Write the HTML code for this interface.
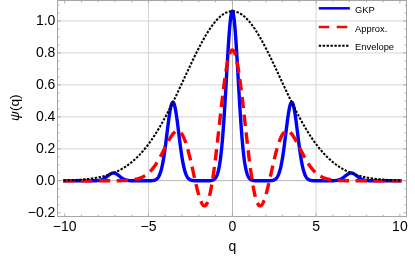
<!DOCTYPE html>
<html><head><meta charset="utf-8"><style>
html,body{margin:0;padding:0;background:#fff;}
svg{display:block;font-family:"Liberation Sans",sans-serif;will-change:transform;}
</style></head><body>
<svg width="415" height="258" viewBox="0 0 415 258">
<rect width="415" height="258" fill="#fff"/>
<g stroke="#d4d4d4" stroke-width="1" fill="none"><line x1="148.50" y1="0.50" x2="148.50" y2="216.50"/><line x1="316.10" y1="0.50" x2="316.10" y2="216.50"/><line x1="57.50" y1="148.83" x2="406.50" y2="148.83"/><line x1="57.50" y1="116.86" x2="406.50" y2="116.86"/><line x1="57.50" y1="84.89" x2="406.50" y2="84.89"/><line x1="57.50" y1="52.92" x2="406.50" y2="52.92"/><line x1="57.50" y1="20.95" x2="406.50" y2="20.95"/></g>
<g stroke="#9a9a9a" stroke-width="0.7" fill="none"><line x1="232.50" y1="0.50" x2="232.50" y2="216.50"/><line x1="57.50" y1="180.60" x2="406.50" y2="180.60"/></g>
<g fill="none" stroke-linejoin="round" stroke-linecap="square">
<path d="M64.70,180.77 L64.91,180.77 L65.12,180.77 L65.33,180.77 L65.54,180.78 L65.75,180.78 L65.96,180.78 L66.17,180.78 L66.38,180.78 L66.59,180.78 L66.79,180.78 L67.00,180.79 L67.21,180.79 L67.42,180.79 L67.63,180.79 L67.84,180.79 L68.05,180.79 L68.26,180.79 L68.47,180.79 L68.68,180.79 L68.89,180.79 L69.10,180.79 L69.31,180.79 L69.52,180.79 L69.73,180.80 L69.94,180.80 L70.15,180.80 L70.36,180.80 L70.57,180.80 L70.78,180.80 L70.98,180.80 L71.19,180.80 L71.40,180.80 L71.61,180.80 L71.82,180.80 L72.03,180.80 L72.24,180.80 L72.45,180.80 L72.66,180.80 L72.87,180.80 L73.08,180.80 L73.29,180.80 L73.50,180.80 L73.71,180.80 L73.92,180.80 L74.13,180.80 L74.34,180.80 L74.55,180.80 L74.76,180.80 L74.97,180.80 L75.17,180.80 L75.38,180.80 L75.59,180.80 L75.80,180.80 L76.01,180.80 L76.22,180.80 L76.43,180.80 L76.64,180.80 L76.85,180.80 L77.06,180.80 L77.27,180.80 L77.48,180.80 L77.69,180.80 L77.90,180.80 L78.11,180.80 L78.32,180.80 L78.53,180.80 L78.74,180.80 L78.95,180.80 L79.16,180.80 L79.37,180.80 L79.57,180.80 L79.78,180.80 L79.99,180.80 L80.20,180.80 L80.41,180.80 L80.62,180.80 L80.83,180.80 L81.04,180.80 L81.25,180.80 L81.46,180.80 L81.67,180.80 L81.88,180.80 L82.09,180.80 L82.30,180.80 L82.51,180.80 L82.72,180.80 L82.93,180.80 L83.14,180.80 L83.35,180.80 L83.56,180.80 L83.76,180.80 L83.97,180.80 L84.18,180.80 L84.39,180.80 L84.60,180.80 L84.81,180.80 L85.02,180.80 L85.23,180.80 L85.44,180.80 L85.65,180.80 L85.86,180.80 L86.07,180.80 L86.28,180.80 L86.49,180.80 L86.70,180.80 L86.91,180.80 L87.12,180.80 L87.33,180.80 L87.54,180.80 L87.75,180.80 L87.95,180.80 L88.16,180.80 L88.37,180.80 L88.58,180.80 L88.79,180.80 L89.00,180.80 L89.21,180.80 L89.42,180.80 L89.63,180.80 L89.84,180.80 L90.05,180.80 L90.26,180.80 L90.47,180.80 L90.68,180.80 L90.89,180.80 L91.10,180.79 L91.31,180.79 L91.52,180.79 L91.73,180.79 L91.94,180.79 L92.14,180.79 L92.35,180.79 L92.56,180.79 L92.77,180.78 L92.98,180.78 L93.19,180.78 L93.40,180.78 L93.61,180.77 L93.82,180.77 L94.03,180.77 L94.24,180.76 L94.45,180.76 L94.66,180.75 L94.87,180.75 L95.08,180.74 L95.29,180.74 L95.50,180.73 L95.71,180.72 L95.92,180.71 L96.12,180.70 L96.33,180.69 L96.54,180.68 L96.75,180.67 L96.96,180.65 L97.17,180.64 L97.38,180.62 L97.59,180.60 L97.80,180.58 L98.01,180.56 L98.22,180.53 L98.43,180.51 L98.64,180.48 L98.85,180.45 L99.06,180.42 L99.27,180.38 L99.48,180.35 L99.69,180.31 L99.90,180.26 L100.11,180.22 L100.31,180.17 L100.52,180.12 L100.73,180.06 L100.94,180.00 L101.15,179.94 L101.36,179.87 L101.57,179.80 L101.78,179.73 L101.99,179.65 L102.20,179.57 L102.41,179.48 L102.62,179.39 L102.83,179.30 L103.04,179.20 L103.25,179.09 L103.46,178.98 L103.67,178.87 L103.88,178.75 L104.09,178.63 L104.30,178.51 L104.50,178.38 L104.71,178.24 L104.92,178.10 L105.13,177.96 L105.34,177.82 L105.55,177.67 L105.76,177.51 L105.97,177.36 L106.18,177.20 L106.39,177.04 L106.60,176.87 L106.81,176.71 L107.02,176.54 L107.23,176.37 L107.44,176.21 L107.65,176.04 L107.86,175.87 L108.07,175.70 L108.28,175.53 L108.49,175.37 L108.69,175.20 L108.90,175.04 L109.11,174.88 L109.32,174.73 L109.53,174.58 L109.74,174.43 L109.95,174.29 L110.16,174.15 L110.37,174.02 L110.58,173.89 L110.79,173.77 L111.00,173.66 L111.21,173.56 L111.42,173.46 L111.63,173.38 L111.84,173.30 L112.05,173.23 L112.26,173.16 L112.47,173.11 L112.68,173.07 L112.89,173.04 L113.09,173.01 L113.30,173.00 L113.51,173.00 L113.72,173.01 L113.93,173.02 L114.14,173.05 L114.35,173.09 L114.56,173.13 L114.77,173.19 L114.98,173.25 L115.19,173.32 L115.40,173.41 L115.61,173.50 L115.82,173.60 L116.03,173.70 L116.24,173.82 L116.45,173.94 L116.66,174.07 L116.87,174.20 L117.08,174.34 L117.28,174.48 L117.49,174.63 L117.70,174.78 L117.91,174.94 L118.12,175.10 L118.33,175.26 L118.54,175.43 L118.75,175.59 L118.96,175.76 L119.17,175.93 L119.38,176.10 L119.59,176.27 L119.80,176.44 L120.01,176.60 L120.22,176.77 L120.43,176.93 L120.64,177.10 L120.85,177.26 L121.06,177.42 L121.27,177.57 L121.47,177.72 L121.68,177.87 L121.89,178.01 L122.10,178.16 L122.31,178.29 L122.52,178.43 L122.73,178.55 L122.94,178.68 L123.15,178.80 L123.36,178.91 L123.57,179.03 L123.78,179.13 L123.99,179.23 L124.20,179.33 L124.41,179.43 L124.62,179.52 L124.83,179.60 L125.04,179.68 L125.25,179.76 L125.45,179.83 L125.66,179.90 L125.87,179.96 L126.08,180.03 L126.29,180.08 L126.50,180.14 L126.71,180.19 L126.92,180.24 L127.13,180.28 L127.34,180.32 L127.55,180.36 L127.76,180.40 L127.97,180.43 L128.18,180.46 L128.39,180.49 L128.60,180.52 L128.81,180.54 L129.02,180.57 L129.23,180.59 L129.44,180.61 L129.64,180.63 L129.85,180.64 L130.06,180.66 L130.27,180.67 L130.48,180.68 L130.69,180.69 L130.90,180.71 L131.11,180.72 L131.32,180.72 L131.53,180.73 L131.74,180.74 L131.95,180.75 L132.16,180.75 L132.37,180.76 L132.58,180.76 L132.79,180.77 L133.00,180.77 L133.21,180.77 L133.42,180.78 L133.63,180.78 L133.84,180.78 L134.04,180.78 L134.25,180.79 L134.46,180.79 L134.67,180.79 L134.88,180.79 L135.09,180.79 L135.30,180.79 L135.51,180.79 L135.72,180.79 L135.93,180.79 L136.14,180.80 L136.35,180.80 L136.56,180.80 L136.77,180.80 L136.98,180.80 L137.19,180.80 L137.40,180.80 L137.61,180.80 L137.82,180.80 L138.03,180.80 L138.23,180.80 L138.44,180.80 L138.65,180.80 L138.86,180.80 L139.07,180.80 L139.28,180.80 L139.49,180.80 L139.70,180.80 L139.91,180.80 L140.12,180.80 L140.33,180.80 L140.54,180.80 L140.75,180.80 L140.96,180.80 L141.17,180.80 L141.38,180.80 L141.59,180.80 L141.80,180.80 L142.01,180.80 L142.22,180.80 L142.42,180.80 L142.63,180.80 L142.84,180.80 L143.05,180.80 L143.26,180.80 L143.47,180.80 L143.68,180.80 L143.89,180.80 L144.10,180.80 L144.31,180.80 L144.52,180.80 L144.73,180.80 L144.94,180.80 L145.15,180.80 L145.36,180.80 L145.57,180.80 L145.78,180.80 L145.99,180.80 L146.20,180.80 L146.41,180.80 L146.61,180.80 L146.82,180.80 L147.03,180.80 L147.24,180.79 L147.45,180.79 L147.66,180.79 L147.87,180.79 L148.08,180.79 L148.29,180.79 L148.50,180.79 L148.71,180.78 L148.92,180.78 L149.13,180.78 L149.34,180.78 L149.55,180.77 L149.76,180.77 L149.97,180.76 L150.18,180.76 L150.39,180.75 L150.59,180.74 L150.80,180.73 L151.01,180.72 L151.22,180.71 L151.43,180.70 L151.64,180.69 L151.85,180.67 L152.06,180.66 L152.27,180.64 L152.48,180.62 L152.69,180.59 L152.90,180.56 L153.11,180.53 L153.32,180.50 L153.53,180.46 L153.74,180.42 L153.95,180.37 L154.16,180.32 L154.37,180.26 L154.58,180.20 L154.79,180.13 L154.99,180.05 L155.20,179.97 L155.41,179.87 L155.62,179.77 L155.83,179.65 L156.04,179.53 L156.25,179.39 L156.46,179.24 L156.67,179.08 L156.88,178.90 L157.09,178.71 L157.30,178.50 L157.51,178.27 L157.72,178.03 L157.93,177.76 L158.14,177.47 L158.35,177.16 L158.56,176.83 L158.77,176.47 L158.98,176.08 L159.18,175.67 L159.39,175.23 L159.60,174.75 L159.81,174.25 L160.02,173.71 L160.23,173.14 L160.44,172.53 L160.65,171.89 L160.86,171.20 L161.07,170.48 L161.28,169.72 L161.49,168.91 L161.70,168.07 L161.91,167.18 L162.12,166.24 L162.33,165.27 L162.54,164.25 L162.75,163.18 L162.96,162.07 L163.17,160.92 L163.37,159.72 L163.58,158.47 L163.79,157.19 L164.00,155.86 L164.21,154.49 L164.42,153.08 L164.63,151.63 L164.84,150.15 L165.05,148.63 L165.26,147.08 L165.47,145.50 L165.68,143.89 L165.89,142.26 L166.10,140.61 L166.31,138.94 L166.52,137.26 L166.73,135.57 L166.94,133.87 L167.15,132.17 L167.36,130.47 L167.56,128.78 L167.77,127.10 L167.98,125.43 L168.19,123.79 L168.40,122.18 L168.61,120.59 L168.82,119.05 L169.03,117.54 L169.24,116.08 L169.45,114.67 L169.66,113.31 L169.87,112.01 L170.08,110.78 L170.29,109.62 L170.50,108.53 L170.71,107.52 L170.92,106.59 L171.13,105.74 L171.34,104.98 L171.55,104.31 L171.75,103.73 L171.96,103.24 L172.17,102.86 L172.38,102.57 L172.59,102.38 L172.80,102.29 L173.01,102.30 L173.22,102.40 L173.43,102.61 L173.64,102.92 L173.85,103.33 L174.06,103.83 L174.27,104.42 L174.48,105.11 L174.69,105.89 L174.90,106.75 L175.11,107.70 L175.32,108.73 L175.53,109.83 L175.74,111.01 L175.94,112.25 L176.15,113.56 L176.36,114.92 L176.57,116.34 L176.78,117.81 L176.99,119.33 L177.20,120.88 L177.41,122.47 L177.62,124.10 L177.83,125.74 L178.04,127.41 L178.25,129.09 L178.46,130.78 L178.67,132.48 L178.88,134.18 L179.09,135.88 L179.30,137.57 L179.51,139.25 L179.72,140.92 L179.93,142.57 L180.13,144.19 L180.34,145.80 L180.55,147.37 L180.76,148.92 L180.97,150.43 L181.18,151.91 L181.39,153.35 L181.60,154.75 L181.81,156.11 L182.02,157.43 L182.23,158.71 L182.44,159.94 L182.65,161.13 L182.86,162.28 L183.07,163.38 L183.28,164.44 L183.49,165.45 L183.70,166.42 L183.91,167.34 L184.12,168.23 L184.32,169.06 L184.53,169.86 L184.74,170.62 L184.95,171.33 L185.16,172.01 L185.37,172.65 L185.58,173.25 L185.79,173.81 L186.00,174.35 L186.21,174.84 L186.42,175.31 L186.63,175.75 L186.84,176.16 L187.05,176.54 L187.26,176.89 L187.47,177.22 L187.68,177.53 L187.89,177.81 L188.10,178.07 L188.31,178.32 L188.51,178.54 L188.72,178.75 L188.93,178.94 L189.14,179.11 L189.35,179.27 L189.56,179.42 L189.77,179.55 L189.98,179.68 L190.19,179.79 L190.40,179.89 L190.61,179.98 L190.82,180.07 L191.03,180.14 L191.24,180.21 L191.45,180.27 L191.66,180.33 L191.87,180.38 L192.08,180.43 L192.29,180.47 L192.50,180.51 L192.70,180.54 L192.91,180.57 L193.12,180.60 L193.33,180.62 L193.54,180.64 L193.75,180.66 L193.96,180.68 L194.17,180.69 L194.38,180.70 L194.59,180.72 L194.80,180.73 L195.01,180.74 L195.22,180.74 L195.43,180.75 L195.64,180.76 L195.85,180.76 L196.06,180.77 L196.27,180.77 L196.48,180.78 L196.69,180.78 L196.89,180.78 L197.10,180.78 L197.31,180.79 L197.52,180.79 L197.73,180.79 L197.94,180.79 L198.15,180.79 L198.36,180.79 L198.57,180.79 L198.78,180.80 L198.99,180.80 L199.20,180.80 L199.41,180.80 L199.62,180.80 L199.83,180.80 L200.04,180.80 L200.25,180.80 L200.46,180.80 L200.67,180.80 L200.88,180.80 L201.08,180.80 L201.29,180.80 L201.50,180.80 L201.71,180.80 L201.92,180.80 L202.13,180.80 L202.34,180.80 L202.55,180.80 L202.76,180.80 L202.97,180.80 L203.18,180.80 L203.39,180.80 L203.60,180.80 L203.81,180.80 L204.02,180.80 L204.23,180.80 L204.44,180.80 L204.65,180.80 L204.86,180.80 L205.06,180.80 L205.27,180.80 L205.48,180.80 L205.69,180.79 L205.90,180.79 L206.11,180.79 L206.32,180.79 L206.53,180.79 L206.74,180.79 L206.95,180.79 L207.16,180.78 L207.37,180.78 L207.58,180.78 L207.79,180.77 L208.00,180.77 L208.21,180.76 L208.42,180.76 L208.63,180.75 L208.84,180.74 L209.05,180.73 L209.25,180.72 L209.46,180.71 L209.67,180.70 L209.88,180.69 L210.09,180.67 L210.30,180.65 L210.51,180.63 L210.72,180.60 L210.93,180.58 L211.14,180.55 L211.35,180.51 L211.56,180.47 L211.77,180.43 L211.98,180.38 L212.19,180.33 L212.40,180.26 L212.61,180.19 L212.82,180.12 L213.03,180.03 L213.24,179.94 L213.45,179.83 L213.65,179.72 L213.86,179.59 L214.07,179.44 L214.28,179.28 L214.49,179.11 L214.70,178.92 L214.91,178.70 L215.12,178.47 L215.33,178.22 L215.54,177.94 L215.75,177.63 L215.96,177.30 L216.17,176.94 L216.38,176.54 L216.59,176.11 L216.80,175.64 L217.01,175.13 L217.22,174.59 L217.43,173.99 L217.64,173.35 L217.84,172.66 L218.05,171.92 L218.26,171.12 L218.47,170.26 L218.68,169.34 L218.89,168.36 L219.10,167.31 L219.31,166.19 L219.52,165.00 L219.73,163.73 L219.94,162.39 L220.15,160.96 L220.36,159.45 L220.57,157.86 L220.78,156.17 L220.99,154.40 L221.20,152.54 L221.41,150.58 L221.62,148.53 L221.83,146.38 L222.03,144.14 L222.24,141.80 L222.45,139.36 L222.66,136.83 L222.87,134.20 L223.08,131.48 L223.29,128.66 L223.50,125.76 L223.71,122.77 L223.92,119.69 L224.13,116.53 L224.34,113.30 L224.55,109.99 L224.76,106.62 L224.97,103.18 L225.18,99.69 L225.39,96.15 L225.60,92.56 L225.81,88.95 L226.02,85.30 L226.22,81.64 L226.43,77.97 L226.64,74.30 L226.85,70.64 L227.06,67.00 L227.27,63.38 L227.48,59.81 L227.69,56.29 L227.90,52.83 L228.11,49.44 L228.32,46.13 L228.53,42.91 L228.74,39.80 L228.95,36.80 L229.16,33.93 L229.37,31.18 L229.58,28.59 L229.79,26.14 L230.00,23.85 L230.21,21.74 L230.41,19.80 L230.62,18.04 L230.83,16.48 L231.04,15.11 L231.25,13.94 L231.46,12.98 L231.67,12.23 L231.88,11.70 L232.09,11.37 L232.30,11.26 L232.51,11.37 L232.72,11.70 L232.93,12.23 L233.14,12.98 L233.35,13.94 L233.56,15.11 L233.77,16.48 L233.98,18.04 L234.19,19.80 L234.40,21.74 L234.60,23.85 L234.81,26.14 L235.02,28.59 L235.23,31.18 L235.44,33.93 L235.65,36.80 L235.86,39.80 L236.07,42.91 L236.28,46.13 L236.49,49.44 L236.70,52.83 L236.91,56.29 L237.12,59.81 L237.33,63.38 L237.54,67.00 L237.75,70.64 L237.96,74.30 L238.17,77.97 L238.38,81.64 L238.59,85.30 L238.79,88.95 L239.00,92.56 L239.21,96.15 L239.42,99.69 L239.63,103.18 L239.84,106.62 L240.05,109.99 L240.26,113.30 L240.47,116.53 L240.68,119.69 L240.89,122.77 L241.10,125.76 L241.31,128.66 L241.52,131.48 L241.73,134.20 L241.94,136.83 L242.15,139.36 L242.36,141.80 L242.57,144.14 L242.78,146.38 L242.98,148.53 L243.19,150.58 L243.40,152.54 L243.61,154.40 L243.82,156.17 L244.03,157.86 L244.24,159.45 L244.45,160.96 L244.66,162.39 L244.87,163.73 L245.08,165.00 L245.29,166.19 L245.50,167.31 L245.71,168.36 L245.92,169.34 L246.13,170.26 L246.34,171.12 L246.55,171.92 L246.76,172.66 L246.97,173.35 L247.17,173.99 L247.38,174.59 L247.59,175.13 L247.80,175.64 L248.01,176.11 L248.22,176.54 L248.43,176.94 L248.64,177.30 L248.85,177.63 L249.06,177.94 L249.27,178.22 L249.48,178.47 L249.69,178.70 L249.90,178.92 L250.11,179.11 L250.32,179.28 L250.53,179.44 L250.74,179.59 L250.95,179.72 L251.16,179.83 L251.36,179.94 L251.57,180.03 L251.78,180.12 L251.99,180.19 L252.20,180.26 L252.41,180.33 L252.62,180.38 L252.83,180.43 L253.04,180.47 L253.25,180.51 L253.46,180.55 L253.67,180.58 L253.88,180.60 L254.09,180.63 L254.30,180.65 L254.51,180.67 L254.72,180.69 L254.93,180.70 L255.14,180.71 L255.35,180.72 L255.55,180.73 L255.76,180.74 L255.97,180.75 L256.18,180.76 L256.39,180.76 L256.60,180.77 L256.81,180.77 L257.02,180.78 L257.23,180.78 L257.44,180.78 L257.65,180.79 L257.86,180.79 L258.07,180.79 L258.28,180.79 L258.49,180.79 L258.70,180.79 L258.91,180.79 L259.12,180.80 L259.33,180.80 L259.54,180.80 L259.74,180.80 L259.95,180.80 L260.16,180.80 L260.37,180.80 L260.58,180.80 L260.79,180.80 L261.00,180.80 L261.21,180.80 L261.42,180.80 L261.63,180.80 L261.84,180.80 L262.05,180.80 L262.26,180.80 L262.47,180.80 L262.68,180.80 L262.89,180.80 L263.10,180.80 L263.31,180.80 L263.52,180.80 L263.73,180.80 L263.93,180.80 L264.14,180.80 L264.35,180.80 L264.56,180.80 L264.77,180.80 L264.98,180.80 L265.19,180.80 L265.40,180.80 L265.61,180.80 L265.82,180.80 L266.03,180.79 L266.24,180.79 L266.45,180.79 L266.66,180.79 L266.87,180.79 L267.08,180.79 L267.29,180.79 L267.50,180.78 L267.71,180.78 L267.92,180.78 L268.12,180.78 L268.33,180.77 L268.54,180.77 L268.75,180.76 L268.96,180.76 L269.17,180.75 L269.38,180.74 L269.59,180.74 L269.80,180.73 L270.01,180.72 L270.22,180.70 L270.43,180.69 L270.64,180.68 L270.85,180.66 L271.06,180.64 L271.27,180.62 L271.48,180.60 L271.69,180.57 L271.90,180.54 L272.11,180.51 L272.31,180.47 L272.52,180.43 L272.73,180.38 L272.94,180.33 L273.15,180.27 L273.36,180.21 L273.57,180.14 L273.78,180.07 L273.99,179.98 L274.20,179.89 L274.41,179.79 L274.62,179.68 L274.83,179.55 L275.04,179.42 L275.25,179.27 L275.46,179.11 L275.67,178.94 L275.88,178.75 L276.09,178.54 L276.30,178.32 L276.50,178.07 L276.71,177.81 L276.92,177.53 L277.13,177.22 L277.34,176.89 L277.55,176.54 L277.76,176.16 L277.97,175.75 L278.18,175.31 L278.39,174.84 L278.60,174.35 L278.81,173.81 L279.02,173.25 L279.23,172.65 L279.44,172.01 L279.65,171.33 L279.86,170.62 L280.07,169.86 L280.28,169.06 L280.49,168.23 L280.69,167.34 L280.90,166.42 L281.11,165.45 L281.32,164.44 L281.53,163.38 L281.74,162.28 L281.95,161.13 L282.16,159.94 L282.37,158.71 L282.58,157.43 L282.79,156.11 L283.00,154.75 L283.21,153.35 L283.42,151.91 L283.63,150.43 L283.84,148.92 L284.05,147.37 L284.26,145.80 L284.47,144.19 L284.68,142.57 L284.88,140.92 L285.09,139.25 L285.30,137.57 L285.51,135.88 L285.72,134.18 L285.93,132.48 L286.14,130.78 L286.35,129.09 L286.56,127.41 L286.77,125.74 L286.98,124.10 L287.19,122.47 L287.40,120.88 L287.61,119.33 L287.82,117.81 L288.03,116.34 L288.24,114.92 L288.45,113.56 L288.66,112.25 L288.87,111.01 L289.07,109.83 L289.28,108.73 L289.49,107.70 L289.70,106.75 L289.91,105.89 L290.12,105.11 L290.33,104.42 L290.54,103.83 L290.75,103.33 L290.96,102.92 L291.17,102.61 L291.38,102.40 L291.59,102.30 L291.80,102.29 L292.01,102.38 L292.22,102.57 L292.43,102.86 L292.64,103.24 L292.85,103.73 L293.06,104.31 L293.26,104.98 L293.47,105.74 L293.68,106.59 L293.89,107.52 L294.10,108.53 L294.31,109.62 L294.52,110.78 L294.73,112.01 L294.94,113.31 L295.15,114.67 L295.36,116.08 L295.57,117.54 L295.78,119.05 L295.99,120.59 L296.20,122.18 L296.41,123.79 L296.62,125.43 L296.83,127.10 L297.04,128.78 L297.25,130.47 L297.45,132.17 L297.66,133.87 L297.87,135.57 L298.08,137.26 L298.29,138.94 L298.50,140.61 L298.71,142.26 L298.92,143.89 L299.13,145.50 L299.34,147.08 L299.55,148.63 L299.76,150.15 L299.97,151.63 L300.18,153.08 L300.39,154.49 L300.60,155.86 L300.81,157.19 L301.02,158.47 L301.23,159.72 L301.44,160.92 L301.64,162.07 L301.85,163.18 L302.06,164.25 L302.27,165.27 L302.48,166.24 L302.69,167.18 L302.90,168.07 L303.11,168.91 L303.32,169.72 L303.53,170.48 L303.74,171.20 L303.95,171.89 L304.16,172.53 L304.37,173.14 L304.58,173.71 L304.79,174.25 L305.00,174.75 L305.21,175.23 L305.42,175.67 L305.62,176.08 L305.83,176.47 L306.04,176.83 L306.25,177.16 L306.46,177.47 L306.67,177.76 L306.88,178.03 L307.09,178.27 L307.30,178.50 L307.51,178.71 L307.72,178.90 L307.93,179.08 L308.14,179.24 L308.35,179.39 L308.56,179.53 L308.77,179.65 L308.98,179.77 L309.19,179.87 L309.40,179.97 L309.61,180.05 L309.81,180.13 L310.02,180.20 L310.23,180.26 L310.44,180.32 L310.65,180.37 L310.86,180.42 L311.07,180.46 L311.28,180.50 L311.49,180.53 L311.70,180.56 L311.91,180.59 L312.12,180.62 L312.33,180.64 L312.54,180.66 L312.75,180.67 L312.96,180.69 L313.17,180.70 L313.38,180.71 L313.59,180.72 L313.80,180.73 L314.00,180.74 L314.21,180.75 L314.42,180.76 L314.63,180.76 L314.84,180.77 L315.05,180.77 L315.26,180.78 L315.47,180.78 L315.68,180.78 L315.89,180.78 L316.10,180.79 L316.31,180.79 L316.52,180.79 L316.73,180.79 L316.94,180.79 L317.15,180.79 L317.36,180.79 L317.57,180.80 L317.78,180.80 L317.99,180.80 L318.20,180.80 L318.40,180.80 L318.61,180.80 L318.82,180.80 L319.03,180.80 L319.24,180.80 L319.45,180.80 L319.66,180.80 L319.87,180.80 L320.08,180.80 L320.29,180.80 L320.50,180.80 L320.71,180.80 L320.92,180.80 L321.13,180.80 L321.34,180.80 L321.55,180.80 L321.76,180.80 L321.97,180.80 L322.18,180.80 L322.38,180.80 L322.59,180.80 L322.80,180.80 L323.01,180.80 L323.22,180.80 L323.43,180.80 L323.64,180.80 L323.85,180.80 L324.06,180.80 L324.27,180.80 L324.48,180.80 L324.69,180.80 L324.90,180.80 L325.11,180.80 L325.32,180.80 L325.53,180.80 L325.74,180.80 L325.95,180.80 L326.16,180.80 L326.37,180.80 L326.58,180.80 L326.78,180.80 L326.99,180.80 L327.20,180.80 L327.41,180.80 L327.62,180.80 L327.83,180.80 L328.04,180.80 L328.25,180.80 L328.46,180.80 L328.67,180.79 L328.88,180.79 L329.09,180.79 L329.30,180.79 L329.51,180.79 L329.72,180.79 L329.93,180.79 L330.14,180.79 L330.35,180.79 L330.56,180.78 L330.76,180.78 L330.97,180.78 L331.18,180.78 L331.39,180.77 L331.60,180.77 L331.81,180.77 L332.02,180.76 L332.23,180.76 L332.44,180.75 L332.65,180.75 L332.86,180.74 L333.07,180.73 L333.28,180.72 L333.49,180.72 L333.70,180.71 L333.91,180.69 L334.12,180.68 L334.33,180.67 L334.54,180.66 L334.75,180.64 L334.96,180.63 L335.16,180.61 L335.37,180.59 L335.58,180.57 L335.79,180.54 L336.00,180.52 L336.21,180.49 L336.42,180.46 L336.63,180.43 L336.84,180.40 L337.05,180.36 L337.26,180.32 L337.47,180.28 L337.68,180.24 L337.89,180.19 L338.10,180.14 L338.31,180.08 L338.52,180.03 L338.73,179.96 L338.94,179.90 L339.15,179.83 L339.35,179.76 L339.56,179.68 L339.77,179.60 L339.98,179.52 L340.19,179.43 L340.40,179.33 L340.61,179.23 L340.82,179.13 L341.03,179.03 L341.24,178.91 L341.45,178.80 L341.66,178.68 L341.87,178.55 L342.08,178.43 L342.29,178.29 L342.50,178.16 L342.71,178.01 L342.92,177.87 L343.13,177.72 L343.34,177.57 L343.54,177.42 L343.75,177.26 L343.96,177.10 L344.17,176.93 L344.38,176.77 L344.59,176.60 L344.80,176.44 L345.01,176.27 L345.22,176.10 L345.43,175.93 L345.64,175.76 L345.85,175.59 L346.06,175.43 L346.27,175.26 L346.48,175.10 L346.69,174.94 L346.90,174.78 L347.11,174.63 L347.32,174.48 L347.53,174.34 L347.73,174.20 L347.94,174.07 L348.15,173.94 L348.36,173.82 L348.57,173.70 L348.78,173.60 L348.99,173.50 L349.20,173.41 L349.41,173.32 L349.62,173.25 L349.83,173.19 L350.04,173.13 L350.25,173.09 L350.46,173.05 L350.67,173.02 L350.88,173.01 L351.09,173.00 L351.30,173.00 L351.51,173.01 L351.72,173.04 L351.92,173.07 L352.13,173.11 L352.34,173.16 L352.55,173.23 L352.76,173.30 L352.97,173.38 L353.18,173.46 L353.39,173.56 L353.60,173.66 L353.81,173.77 L354.02,173.89 L354.23,174.02 L354.44,174.15 L354.65,174.29 L354.86,174.43 L355.07,174.58 L355.28,174.73 L355.49,174.88 L355.70,175.04 L355.91,175.20 L356.11,175.37 L356.32,175.53 L356.53,175.70 L356.74,175.87 L356.95,176.04 L357.16,176.21 L357.37,176.37 L357.58,176.54 L357.79,176.71 L358.00,176.87 L358.21,177.04 L358.42,177.20 L358.63,177.36 L358.84,177.51 L359.05,177.67 L359.26,177.82 L359.47,177.96 L359.68,178.10 L359.89,178.24 L360.10,178.38 L360.30,178.51 L360.51,178.63 L360.72,178.75 L360.93,178.87 L361.14,178.98 L361.35,179.09 L361.56,179.20 L361.77,179.30 L361.98,179.39 L362.19,179.48 L362.40,179.57 L362.61,179.65 L362.82,179.73 L363.03,179.80 L363.24,179.87 L363.45,179.94 L363.66,180.00 L363.87,180.06 L364.08,180.12 L364.29,180.17 L364.49,180.22 L364.70,180.26 L364.91,180.31 L365.12,180.35 L365.33,180.38 L365.54,180.42 L365.75,180.45 L365.96,180.48 L366.17,180.51 L366.38,180.53 L366.59,180.56 L366.80,180.58 L367.01,180.60 L367.22,180.62 L367.43,180.64 L367.64,180.65 L367.85,180.67 L368.06,180.68 L368.27,180.69 L368.48,180.70 L368.68,180.71 L368.89,180.72 L369.10,180.73 L369.31,180.74 L369.52,180.74 L369.73,180.75 L369.94,180.75 L370.15,180.76 L370.36,180.76 L370.57,180.77 L370.78,180.77 L370.99,180.77 L371.20,180.78 L371.41,180.78 L371.62,180.78 L371.83,180.78 L372.04,180.79 L372.25,180.79 L372.46,180.79 L372.67,180.79 L372.87,180.79 L373.08,180.79 L373.29,180.79 L373.50,180.79 L373.71,180.80 L373.92,180.80 L374.13,180.80 L374.34,180.80 L374.55,180.80 L374.76,180.80 L374.97,180.80 L375.18,180.80 L375.39,180.80 L375.60,180.80 L375.81,180.80 L376.02,180.80 L376.23,180.80 L376.44,180.80 L376.65,180.80 L376.86,180.80 L377.06,180.80 L377.27,180.80 L377.48,180.80 L377.69,180.80 L377.90,180.80 L378.11,180.80 L378.32,180.80 L378.53,180.80 L378.74,180.80 L378.95,180.80 L379.16,180.80 L379.37,180.80 L379.58,180.80 L379.79,180.80 L380.00,180.80 L380.21,180.80 L380.42,180.80 L380.63,180.80 L380.84,180.80 L381.05,180.80 L381.25,180.80 L381.46,180.80 L381.67,180.80 L381.88,180.80 L382.09,180.80 L382.30,180.80 L382.51,180.80 L382.72,180.80 L382.93,180.80 L383.14,180.80 L383.35,180.80 L383.56,180.80 L383.77,180.80 L383.98,180.80 L384.19,180.80 L384.40,180.80 L384.61,180.80 L384.82,180.80 L385.03,180.80 L385.24,180.80 L385.44,180.80 L385.65,180.80 L385.86,180.80 L386.07,180.80 L386.28,180.80 L386.49,180.80 L386.70,180.80 L386.91,180.80 L387.12,180.80 L387.33,180.80 L387.54,180.80 L387.75,180.80 L387.96,180.80 L388.17,180.80 L388.38,180.80 L388.59,180.80 L388.80,180.80 L389.01,180.80 L389.22,180.80 L389.43,180.80 L389.63,180.80 L389.84,180.80 L390.05,180.80 L390.26,180.80 L390.47,180.80 L390.68,180.80 L390.89,180.80 L391.10,180.80 L391.31,180.80 L391.52,180.80 L391.73,180.80 L391.94,180.80 L392.15,180.80 L392.36,180.80 L392.57,180.80 L392.78,180.80 L392.99,180.80 L393.20,180.80 L393.41,180.80 L393.62,180.80 L393.82,180.80 L394.03,180.80 L394.24,180.80 L394.45,180.80 L394.66,180.80 L394.87,180.80 L395.08,180.79 L395.29,180.79 L395.50,180.79 L395.71,180.79 L395.92,180.79 L396.13,180.79 L396.34,180.79 L396.55,180.79 L396.76,180.79 L396.97,180.79 L397.18,180.79 L397.39,180.79 L397.60,180.79 L397.81,180.78 L398.01,180.78 L398.22,180.78 L398.43,180.78 L398.64,180.78 L398.85,180.78 L399.06,180.78 L399.27,180.77 L399.48,180.77 L399.69,180.77 L399.90,180.77" stroke="#0000ff" stroke-width="3.4"/>
<path d="M64.70,180.80 L64.91,180.80 L65.12,180.80 L65.33,180.80 L65.54,180.80 L65.75,180.80 L65.96,180.80 L66.17,180.80 L66.38,180.80 L66.59,180.80 L66.79,180.80 L67.00,180.80 L67.21,180.80 L67.42,180.80 L67.63,180.80 L67.84,180.80 L68.05,180.80 L68.26,180.80 L68.47,180.80 L68.68,180.80 L68.89,180.80 L69.10,180.80 L69.31,180.80 L69.52,180.80 L69.73,180.80 L69.94,180.80 L70.15,180.80 L70.36,180.80 L70.57,180.80 L70.78,180.80 L70.98,180.80 L71.19,180.80 L71.40,180.80 L71.61,180.80 L71.82,180.80 L72.03,180.80 L72.24,180.80 L72.45,180.80 L72.66,180.80 L72.87,180.80 L73.08,180.80 L73.29,180.80 L73.50,180.80 L73.71,180.80 L73.92,180.80 L74.13,180.80 L74.34,180.80 L74.55,180.80 L74.76,180.80 L74.97,180.80 L75.17,180.80 L75.38,180.80 L75.59,180.80 L75.80,180.80 L76.01,180.80 L76.22,180.80 L76.43,180.80 L76.64,180.80 L76.85,180.80 L77.06,180.80 L77.27,180.80 L77.48,180.80 L77.69,180.80 L77.90,180.80 L78.11,180.80 L78.32,180.80 L78.53,180.80 L78.74,180.80 L78.95,180.80 L79.16,180.80 L79.37,180.80 L79.57,180.80 L79.78,180.80 L79.99,180.80 L80.20,180.80 L80.41,180.80 L80.62,180.80 L80.83,180.80 L81.04,180.80 L81.25,180.80 L81.46,180.80 L81.67,180.80 L81.88,180.80 L82.09,180.80 L82.30,180.80 L82.51,180.80 L82.72,180.80 L82.93,180.80 L83.14,180.80 L83.35,180.80 L83.56,180.80 L83.76,180.80 L83.97,180.80 L84.18,180.80 L84.39,180.80 L84.60,180.80 L84.81,180.80 L85.02,180.80 L85.23,180.80 L85.44,180.80 L85.65,180.80 L85.86,180.80 L86.07,180.80 L86.28,180.80 L86.49,180.80 L86.70,180.80 L86.91,180.80 L87.12,180.80 L87.33,180.80 L87.54,180.80 L87.75,180.80 L87.95,180.80 L88.16,180.80 L88.37,180.80 L88.58,180.80 L88.79,180.80 L89.00,180.80 L89.21,180.80 L89.42,180.80 L89.63,180.80 L89.84,180.80 L90.05,180.80 L90.26,180.80 L90.47,180.80 L90.68,180.80 L90.89,180.80 L91.10,180.80 L91.31,180.80 L91.52,180.80 L91.73,180.80 L91.94,180.80 L92.14,180.80 L92.35,180.80 L92.56,180.80 L92.77,180.80 L92.98,180.80 L93.19,180.80 L93.40,180.80 L93.61,180.80 L93.82,180.80 L94.03,180.80 L94.24,180.80 L94.45,180.80 L94.66,180.80 L94.87,180.80 L95.08,180.80 L95.29,180.80 L95.50,180.80 L95.71,180.80 L95.92,180.80 L96.12,180.80 L96.33,180.80 L96.54,180.80 L96.75,180.80 L96.96,180.80 L97.17,180.80 L97.38,180.80 L97.59,180.80 L97.80,180.80 L98.01,180.80 L98.22,180.80 L98.43,180.80 L98.64,180.80 L98.85,180.80 L99.06,180.80 L99.27,180.80 L99.48,180.80 L99.69,180.80 L99.90,180.80 L100.11,180.80 L100.31,180.80 L100.52,180.80 L100.73,180.80 L100.94,180.80 L101.15,180.80 L101.36,180.80 L101.57,180.80 L101.78,180.80 L101.99,180.80 L102.20,180.80 L102.41,180.80 L102.62,180.80 L102.83,180.80 L103.04,180.80 L103.25,180.80 L103.46,180.80 L103.67,180.80 L103.88,180.80 L104.09,180.80 L104.30,180.80 L104.50,180.80 L104.71,180.80 L104.92,180.80 L105.13,180.80 L105.34,180.79 L105.55,180.79 L105.76,180.79 L105.97,180.79 L106.18,180.79 L106.39,180.79 L106.60,180.79 L106.81,180.79 L107.02,180.79 L107.23,180.79 L107.44,180.79 L107.65,180.79 L107.86,180.79 L108.07,180.79 L108.28,180.79 L108.49,180.79 L108.69,180.79 L108.90,180.79 L109.11,180.79 L109.32,180.79 L109.53,180.79 L109.74,180.79 L109.95,180.79 L110.16,180.79 L110.37,180.78 L110.58,180.78 L110.79,180.78 L111.00,180.78 L111.21,180.78 L111.42,180.78 L111.63,180.78 L111.84,180.78 L112.05,180.78 L112.26,180.78 L112.47,180.78 L112.68,180.78 L112.89,180.77 L113.09,180.77 L113.30,180.77 L113.51,180.77 L113.72,180.77 L113.93,180.77 L114.14,180.77 L114.35,180.77 L114.56,180.76 L114.77,180.76 L114.98,180.76 L115.19,180.76 L115.40,180.76 L115.61,180.76 L115.82,180.75 L116.03,180.75 L116.24,180.75 L116.45,180.75 L116.66,180.75 L116.87,180.74 L117.08,180.74 L117.28,180.74 L117.49,180.74 L117.70,180.73 L117.91,180.73 L118.12,180.73 L118.33,180.72 L118.54,180.72 L118.75,180.72 L118.96,180.71 L119.17,180.71 L119.38,180.71 L119.59,180.70 L119.80,180.70 L120.01,180.70 L120.22,180.69 L120.43,180.69 L120.64,180.68 L120.85,180.68 L121.06,180.67 L121.27,180.67 L121.47,180.66 L121.68,180.66 L121.89,180.65 L122.10,180.65 L122.31,180.64 L122.52,180.63 L122.73,180.63 L122.94,180.62 L123.15,180.61 L123.36,180.61 L123.57,180.60 L123.78,180.59 L123.99,180.58 L124.20,180.58 L124.41,180.57 L124.62,180.56 L124.83,180.55 L125.04,180.54 L125.25,180.53 L125.45,180.52 L125.66,180.51 L125.87,180.50 L126.08,180.49 L126.29,180.48 L126.50,180.47 L126.71,180.45 L126.92,180.44 L127.13,180.43 L127.34,180.41 L127.55,180.40 L127.76,180.39 L127.97,180.37 L128.18,180.36 L128.39,180.34 L128.60,180.32 L128.81,180.31 L129.02,180.29 L129.23,180.27 L129.44,180.25 L129.64,180.23 L129.85,180.21 L130.06,180.19 L130.27,180.17 L130.48,180.15 L130.69,180.13 L130.90,180.11 L131.11,180.08 L131.32,180.06 L131.53,180.03 L131.74,180.01 L131.95,179.98 L132.16,179.95 L132.37,179.93 L132.58,179.90 L132.79,179.87 L133.00,179.84 L133.21,179.80 L133.42,179.77 L133.63,179.74 L133.84,179.70 L134.04,179.67 L134.25,179.63 L134.46,179.59 L134.67,179.55 L134.88,179.51 L135.09,179.47 L135.30,179.43 L135.51,179.39 L135.72,179.34 L135.93,179.30 L136.14,179.25 L136.35,179.20 L136.56,179.15 L136.77,179.10 L136.98,179.05 L137.19,178.99 L137.40,178.94 L137.61,178.88 L137.82,178.82 L138.03,178.76 L138.23,178.70 L138.44,178.64 L138.65,178.58 L138.86,178.51 L139.07,178.44 L139.28,178.37 L139.49,178.30 L139.70,178.23 L139.91,178.15 L140.12,178.07 L140.33,178.00 L140.54,177.92 L140.75,177.83 L140.96,177.75 L141.17,177.66 L141.38,177.57 L141.59,177.48 L141.80,177.39 L142.01,177.29 L142.22,177.19 L142.42,177.09 L142.63,176.99 L142.84,176.89 L143.05,176.78 L143.26,176.67 L143.47,176.56 L143.68,176.44 L143.89,176.33 L144.10,176.21 L144.31,176.09 L144.52,175.96 L144.73,175.83 L144.94,175.70 L145.15,175.57 L145.36,175.43 L145.57,175.29 L145.78,175.15 L145.99,175.01 L146.20,174.86 L146.41,174.71 L146.61,174.56 L146.82,174.40 L147.03,174.24 L147.24,174.08 L147.45,173.91 L147.66,173.74 L147.87,173.57 L148.08,173.39 L148.29,173.21 L148.50,173.03 L148.71,172.84 L148.92,172.65 L149.13,172.46 L149.34,172.26 L149.55,172.06 L149.76,171.86 L149.97,171.65 L150.18,171.44 L150.39,171.23 L150.59,171.01 L150.80,170.79 L151.01,170.56 L151.22,170.33 L151.43,170.10 L151.64,169.86 L151.85,169.62 L152.06,169.38 L152.27,169.13 L152.48,168.88 L152.69,168.62 L152.90,168.36 L153.11,168.10 L153.32,167.83 L153.53,167.56 L153.74,167.29 L153.95,167.01 L154.16,166.73 L154.37,166.44 L154.58,166.15 L154.79,165.85 L154.99,165.56 L155.20,165.25 L155.41,164.95 L155.62,164.64 L155.83,164.33 L156.04,164.01 L156.25,163.69 L156.46,163.36 L156.67,163.04 L156.88,162.70 L157.09,162.37 L157.30,162.03 L157.51,161.69 L157.72,161.34 L157.93,160.99 L158.14,160.64 L158.35,160.28 L158.56,159.92 L158.77,159.56 L158.98,159.20 L159.18,158.83 L159.39,158.46 L159.60,158.08 L159.81,157.70 L160.02,157.32 L160.23,156.94 L160.44,156.55 L160.65,156.16 L160.86,155.77 L161.07,155.38 L161.28,154.98 L161.49,154.59 L161.70,154.19 L161.91,153.79 L162.12,153.38 L162.33,152.98 L162.54,152.57 L162.75,152.16 L162.96,151.75 L163.17,151.34 L163.37,150.93 L163.58,150.52 L163.79,150.10 L164.00,149.69 L164.21,149.27 L164.42,148.86 L164.63,148.44 L164.84,148.03 L165.05,147.61 L165.26,147.20 L165.47,146.78 L165.68,146.37 L165.89,145.96 L166.10,145.54 L166.31,145.13 L166.52,144.72 L166.73,144.32 L166.94,143.91 L167.15,143.51 L167.36,143.10 L167.56,142.71 L167.77,142.31 L167.98,141.91 L168.19,141.52 L168.40,141.14 L168.61,140.75 L168.82,140.37 L169.03,139.99 L169.24,139.62 L169.45,139.25 L169.66,138.89 L169.87,138.53 L170.08,138.18 L170.29,137.83 L170.50,137.49 L170.71,137.15 L170.92,136.82 L171.13,136.50 L171.34,136.18 L171.55,135.87 L171.75,135.57 L171.96,135.27 L172.17,134.98 L172.38,134.70 L172.59,134.43 L172.80,134.16 L173.01,133.91 L173.22,133.66 L173.43,133.42 L173.64,133.19 L173.85,132.97 L174.06,132.77 L174.27,132.57 L174.48,132.38 L174.69,132.20 L174.90,132.03 L175.11,131.88 L175.32,131.73 L175.53,131.60 L175.74,131.48 L175.94,131.37 L176.15,131.27 L176.36,131.18 L176.57,131.11 L176.78,131.05 L176.99,131.01 L177.20,130.97 L177.41,130.96 L177.62,130.95 L177.83,130.96 L178.04,130.98 L178.25,131.02 L178.46,131.07 L178.67,131.14 L178.88,131.22 L179.09,131.31 L179.30,131.42 L179.51,131.55 L179.72,131.69 L179.93,131.85 L180.13,132.02 L180.34,132.21 L180.55,132.42 L180.76,132.64 L180.97,132.87 L181.18,133.13 L181.39,133.40 L181.60,133.68 L181.81,133.98 L182.02,134.30 L182.23,134.64 L182.44,134.99 L182.65,135.36 L182.86,135.74 L183.07,136.14 L183.28,136.56 L183.49,136.99 L183.70,137.44 L183.91,137.91 L184.12,138.39 L184.32,138.89 L184.53,139.41 L184.74,139.94 L184.95,140.48 L185.16,141.05 L185.37,141.62 L185.58,142.22 L185.79,142.83 L186.00,143.45 L186.21,144.09 L186.42,144.75 L186.63,145.41 L186.84,146.10 L187.05,146.79 L187.26,147.50 L187.47,148.23 L187.68,148.97 L187.89,149.72 L188.10,150.48 L188.31,151.25 L188.51,152.04 L188.72,152.84 L188.93,153.65 L189.14,154.47 L189.35,155.30 L189.56,156.15 L189.77,157.00 L189.98,157.86 L190.19,158.73 L190.40,159.61 L190.61,160.49 L190.82,161.39 L191.03,162.29 L191.24,163.19 L191.45,164.11 L191.66,165.02 L191.87,165.95 L192.08,166.87 L192.29,167.81 L192.50,168.74 L192.70,169.68 L192.91,170.62 L193.12,171.56 L193.33,172.50 L193.54,173.44 L193.75,174.38 L193.96,175.32 L194.17,176.26 L194.38,177.19 L194.59,178.13 L194.80,179.06 L195.01,179.98 L195.22,180.90 L195.43,181.81 L195.64,182.72 L195.85,183.62 L196.06,184.51 L196.27,185.40 L196.48,186.27 L196.69,187.14 L196.89,187.99 L197.10,188.84 L197.31,189.67 L197.52,190.49 L197.73,191.29 L197.94,192.08 L198.15,192.86 L198.36,193.62 L198.57,194.36 L198.78,195.09 L198.99,195.80 L199.20,196.49 L199.41,197.16 L199.62,197.82 L199.83,198.45 L200.04,199.06 L200.25,199.65 L200.46,200.22 L200.67,200.76 L200.88,201.28 L201.08,201.77 L201.29,202.24 L201.50,202.69 L201.71,203.11 L201.92,203.50 L202.13,203.86 L202.34,204.20 L202.55,204.51 L202.76,204.79 L202.97,205.03 L203.18,205.25 L203.39,205.44 L203.60,205.60 L203.81,205.72 L204.02,205.82 L204.23,205.88 L204.44,205.91 L204.65,205.90 L204.86,205.86 L205.06,205.79 L205.27,205.68 L205.48,205.54 L205.69,205.36 L205.90,205.15 L206.11,204.91 L206.32,204.62 L206.53,204.30 L206.74,203.95 L206.95,203.56 L207.16,203.13 L207.37,202.67 L207.58,202.17 L207.79,201.63 L208.00,201.06 L208.21,200.45 L208.42,199.80 L208.63,199.12 L208.84,198.40 L209.05,197.64 L209.25,196.85 L209.46,196.02 L209.67,195.16 L209.88,194.26 L210.09,193.32 L210.30,192.35 L210.51,191.35 L210.72,190.31 L210.93,189.23 L211.14,188.12 L211.35,186.98 L211.56,185.81 L211.77,184.60 L211.98,183.36 L212.19,182.09 L212.40,180.79 L212.61,179.45 L212.82,178.09 L213.03,176.70 L213.24,175.27 L213.45,173.83 L213.65,172.35 L213.86,170.84 L214.07,169.31 L214.28,167.76 L214.49,166.18 L214.70,164.58 L214.91,162.95 L215.12,161.30 L215.33,159.63 L215.54,157.94 L215.75,156.23 L215.96,154.50 L216.17,152.76 L216.38,151.00 L216.59,149.22 L216.80,147.43 L217.01,145.62 L217.22,143.80 L217.43,141.97 L217.64,140.13 L217.84,138.28 L218.05,136.42 L218.26,134.56 L218.47,132.68 L218.68,130.81 L218.89,128.93 L219.10,127.04 L219.31,125.16 L219.52,123.27 L219.73,121.38 L219.94,119.50 L220.15,117.62 L220.36,115.74 L220.57,113.87 L220.78,112.01 L220.99,110.15 L221.20,108.30 L221.41,106.46 L221.62,104.64 L221.83,102.82 L222.03,101.02 L222.24,99.23 L222.45,97.46 L222.66,95.71 L222.87,93.97 L223.08,92.25 L223.29,90.56 L223.50,88.88 L223.71,87.23 L223.92,85.60 L224.13,84.00 L224.34,82.42 L224.55,80.86 L224.76,79.34 L224.97,77.85 L225.18,76.38 L225.39,74.95 L225.60,73.54 L225.81,72.17 L226.02,70.84 L226.22,69.53 L226.43,68.27 L226.64,67.04 L226.85,65.85 L227.06,64.69 L227.27,63.57 L227.48,62.50 L227.69,61.46 L227.90,60.47 L228.11,59.51 L228.32,58.60 L228.53,57.73 L228.74,56.91 L228.95,56.13 L229.16,55.39 L229.37,54.70 L229.58,54.05 L229.79,53.45 L230.00,52.90 L230.21,52.39 L230.41,51.93 L230.62,51.52 L230.83,51.16 L231.04,50.84 L231.25,50.57 L231.46,50.35 L231.67,50.18 L231.88,50.06 L232.09,49.99 L232.30,49.96 L232.51,49.99 L232.72,50.06 L232.93,50.18 L233.14,50.35 L233.35,50.57 L233.56,50.84 L233.77,51.16 L233.98,51.52 L234.19,51.93 L234.40,52.39 L234.60,52.90 L234.81,53.45 L235.02,54.05 L235.23,54.70 L235.44,55.39 L235.65,56.13 L235.86,56.91 L236.07,57.73 L236.28,58.60 L236.49,59.51 L236.70,60.47 L236.91,61.46 L237.12,62.50 L237.33,63.57 L237.54,64.69 L237.75,65.85 L237.96,67.04 L238.17,68.27 L238.38,69.53 L238.59,70.84 L238.79,72.17 L239.00,73.54 L239.21,74.95 L239.42,76.38 L239.63,77.85 L239.84,79.34 L240.05,80.86 L240.26,82.42 L240.47,84.00 L240.68,85.60 L240.89,87.23 L241.10,88.88 L241.31,90.56 L241.52,92.25 L241.73,93.97 L241.94,95.71 L242.15,97.46 L242.36,99.23 L242.57,101.02 L242.78,102.82 L242.98,104.64 L243.19,106.46 L243.40,108.30 L243.61,110.15 L243.82,112.01 L244.03,113.87 L244.24,115.74 L244.45,117.62 L244.66,119.50 L244.87,121.38 L245.08,123.27 L245.29,125.16 L245.50,127.04 L245.71,128.93 L245.92,130.81 L246.13,132.68 L246.34,134.56 L246.55,136.42 L246.76,138.28 L246.97,140.13 L247.17,141.97 L247.38,143.80 L247.59,145.62 L247.80,147.43 L248.01,149.22 L248.22,151.00 L248.43,152.76 L248.64,154.50 L248.85,156.23 L249.06,157.94 L249.27,159.63 L249.48,161.30 L249.69,162.95 L249.90,164.58 L250.11,166.18 L250.32,167.76 L250.53,169.31 L250.74,170.84 L250.95,172.35 L251.16,173.83 L251.36,175.27 L251.57,176.70 L251.78,178.09 L251.99,179.45 L252.20,180.79 L252.41,182.09 L252.62,183.36 L252.83,184.60 L253.04,185.81 L253.25,186.98 L253.46,188.12 L253.67,189.23 L253.88,190.31 L254.09,191.35 L254.30,192.35 L254.51,193.32 L254.72,194.26 L254.93,195.16 L255.14,196.02 L255.35,196.85 L255.55,197.64 L255.76,198.40 L255.97,199.12 L256.18,199.80 L256.39,200.45 L256.60,201.06 L256.81,201.63 L257.02,202.17 L257.23,202.67 L257.44,203.13 L257.65,203.56 L257.86,203.95 L258.07,204.30 L258.28,204.62 L258.49,204.91 L258.70,205.15 L258.91,205.36 L259.12,205.54 L259.33,205.68 L259.54,205.79 L259.74,205.86 L259.95,205.90 L260.16,205.91 L260.37,205.88 L260.58,205.82 L260.79,205.72 L261.00,205.60 L261.21,205.44 L261.42,205.25 L261.63,205.03 L261.84,204.79 L262.05,204.51 L262.26,204.20 L262.47,203.86 L262.68,203.50 L262.89,203.11 L263.10,202.69 L263.31,202.24 L263.52,201.77 L263.73,201.28 L263.93,200.76 L264.14,200.22 L264.35,199.65 L264.56,199.06 L264.77,198.45 L264.98,197.82 L265.19,197.16 L265.40,196.49 L265.61,195.80 L265.82,195.09 L266.03,194.36 L266.24,193.62 L266.45,192.86 L266.66,192.08 L266.87,191.29 L267.08,190.49 L267.29,189.67 L267.50,188.84 L267.71,187.99 L267.92,187.14 L268.12,186.27 L268.33,185.40 L268.54,184.51 L268.75,183.62 L268.96,182.72 L269.17,181.81 L269.38,180.90 L269.59,179.98 L269.80,179.06 L270.01,178.13 L270.22,177.19 L270.43,176.26 L270.64,175.32 L270.85,174.38 L271.06,173.44 L271.27,172.50 L271.48,171.56 L271.69,170.62 L271.90,169.68 L272.11,168.74 L272.31,167.81 L272.52,166.87 L272.73,165.95 L272.94,165.02 L273.15,164.11 L273.36,163.19 L273.57,162.29 L273.78,161.39 L273.99,160.49 L274.20,159.61 L274.41,158.73 L274.62,157.86 L274.83,157.00 L275.04,156.15 L275.25,155.30 L275.46,154.47 L275.67,153.65 L275.88,152.84 L276.09,152.04 L276.30,151.25 L276.50,150.48 L276.71,149.72 L276.92,148.97 L277.13,148.23 L277.34,147.50 L277.55,146.79 L277.76,146.10 L277.97,145.41 L278.18,144.75 L278.39,144.09 L278.60,143.45 L278.81,142.83 L279.02,142.22 L279.23,141.62 L279.44,141.05 L279.65,140.48 L279.86,139.94 L280.07,139.41 L280.28,138.89 L280.49,138.39 L280.69,137.91 L280.90,137.44 L281.11,136.99 L281.32,136.56 L281.53,136.14 L281.74,135.74 L281.95,135.36 L282.16,134.99 L282.37,134.64 L282.58,134.30 L282.79,133.98 L283.00,133.68 L283.21,133.40 L283.42,133.13 L283.63,132.87 L283.84,132.64 L284.05,132.42 L284.26,132.21 L284.47,132.02 L284.68,131.85 L284.88,131.69 L285.09,131.55 L285.30,131.42 L285.51,131.31 L285.72,131.22 L285.93,131.14 L286.14,131.07 L286.35,131.02 L286.56,130.98 L286.77,130.96 L286.98,130.95 L287.19,130.96 L287.40,130.97 L287.61,131.01 L287.82,131.05 L288.03,131.11 L288.24,131.18 L288.45,131.27 L288.66,131.37 L288.87,131.48 L289.07,131.60 L289.28,131.73 L289.49,131.88 L289.70,132.03 L289.91,132.20 L290.12,132.38 L290.33,132.57 L290.54,132.77 L290.75,132.97 L290.96,133.19 L291.17,133.42 L291.38,133.66 L291.59,133.91 L291.80,134.16 L292.01,134.43 L292.22,134.70 L292.43,134.98 L292.64,135.27 L292.85,135.57 L293.06,135.87 L293.26,136.18 L293.47,136.50 L293.68,136.82 L293.89,137.15 L294.10,137.49 L294.31,137.83 L294.52,138.18 L294.73,138.53 L294.94,138.89 L295.15,139.25 L295.36,139.62 L295.57,139.99 L295.78,140.37 L295.99,140.75 L296.20,141.14 L296.41,141.52 L296.62,141.91 L296.83,142.31 L297.04,142.71 L297.25,143.10 L297.45,143.51 L297.66,143.91 L297.87,144.32 L298.08,144.72 L298.29,145.13 L298.50,145.54 L298.71,145.96 L298.92,146.37 L299.13,146.78 L299.34,147.20 L299.55,147.61 L299.76,148.03 L299.97,148.44 L300.18,148.86 L300.39,149.27 L300.60,149.69 L300.81,150.10 L301.02,150.52 L301.23,150.93 L301.44,151.34 L301.64,151.75 L301.85,152.16 L302.06,152.57 L302.27,152.98 L302.48,153.38 L302.69,153.79 L302.90,154.19 L303.11,154.59 L303.32,154.98 L303.53,155.38 L303.74,155.77 L303.95,156.16 L304.16,156.55 L304.37,156.94 L304.58,157.32 L304.79,157.70 L305.00,158.08 L305.21,158.46 L305.42,158.83 L305.62,159.20 L305.83,159.56 L306.04,159.92 L306.25,160.28 L306.46,160.64 L306.67,160.99 L306.88,161.34 L307.09,161.69 L307.30,162.03 L307.51,162.37 L307.72,162.70 L307.93,163.04 L308.14,163.36 L308.35,163.69 L308.56,164.01 L308.77,164.33 L308.98,164.64 L309.19,164.95 L309.40,165.25 L309.61,165.56 L309.81,165.85 L310.02,166.15 L310.23,166.44 L310.44,166.73 L310.65,167.01 L310.86,167.29 L311.07,167.56 L311.28,167.83 L311.49,168.10 L311.70,168.36 L311.91,168.62 L312.12,168.88 L312.33,169.13 L312.54,169.38 L312.75,169.62 L312.96,169.86 L313.17,170.10 L313.38,170.33 L313.59,170.56 L313.80,170.79 L314.00,171.01 L314.21,171.23 L314.42,171.44 L314.63,171.65 L314.84,171.86 L315.05,172.06 L315.26,172.26 L315.47,172.46 L315.68,172.65 L315.89,172.84 L316.10,173.03 L316.31,173.21 L316.52,173.39 L316.73,173.57 L316.94,173.74 L317.15,173.91 L317.36,174.08 L317.57,174.24 L317.78,174.40 L317.99,174.56 L318.20,174.71 L318.40,174.86 L318.61,175.01 L318.82,175.15 L319.03,175.29 L319.24,175.43 L319.45,175.57 L319.66,175.70 L319.87,175.83 L320.08,175.96 L320.29,176.09 L320.50,176.21 L320.71,176.33 L320.92,176.44 L321.13,176.56 L321.34,176.67 L321.55,176.78 L321.76,176.89 L321.97,176.99 L322.18,177.09 L322.38,177.19 L322.59,177.29 L322.80,177.39 L323.01,177.48 L323.22,177.57 L323.43,177.66 L323.64,177.75 L323.85,177.83 L324.06,177.92 L324.27,178.00 L324.48,178.07 L324.69,178.15 L324.90,178.23 L325.11,178.30 L325.32,178.37 L325.53,178.44 L325.74,178.51 L325.95,178.58 L326.16,178.64 L326.37,178.70 L326.58,178.76 L326.78,178.82 L326.99,178.88 L327.20,178.94 L327.41,178.99 L327.62,179.05 L327.83,179.10 L328.04,179.15 L328.25,179.20 L328.46,179.25 L328.67,179.30 L328.88,179.34 L329.09,179.39 L329.30,179.43 L329.51,179.47 L329.72,179.51 L329.93,179.55 L330.14,179.59 L330.35,179.63 L330.56,179.67 L330.76,179.70 L330.97,179.74 L331.18,179.77 L331.39,179.80 L331.60,179.84 L331.81,179.87 L332.02,179.90 L332.23,179.93 L332.44,179.95 L332.65,179.98 L332.86,180.01 L333.07,180.03 L333.28,180.06 L333.49,180.08 L333.70,180.11 L333.91,180.13 L334.12,180.15 L334.33,180.17 L334.54,180.19 L334.75,180.21 L334.96,180.23 L335.16,180.25 L335.37,180.27 L335.58,180.29 L335.79,180.31 L336.00,180.32 L336.21,180.34 L336.42,180.36 L336.63,180.37 L336.84,180.39 L337.05,180.40 L337.26,180.41 L337.47,180.43 L337.68,180.44 L337.89,180.45 L338.10,180.47 L338.31,180.48 L338.52,180.49 L338.73,180.50 L338.94,180.51 L339.15,180.52 L339.35,180.53 L339.56,180.54 L339.77,180.55 L339.98,180.56 L340.19,180.57 L340.40,180.58 L340.61,180.58 L340.82,180.59 L341.03,180.60 L341.24,180.61 L341.45,180.61 L341.66,180.62 L341.87,180.63 L342.08,180.63 L342.29,180.64 L342.50,180.65 L342.71,180.65 L342.92,180.66 L343.13,180.66 L343.34,180.67 L343.54,180.67 L343.75,180.68 L343.96,180.68 L344.17,180.69 L344.38,180.69 L344.59,180.70 L344.80,180.70 L345.01,180.70 L345.22,180.71 L345.43,180.71 L345.64,180.71 L345.85,180.72 L346.06,180.72 L346.27,180.72 L346.48,180.73 L346.69,180.73 L346.90,180.73 L347.11,180.74 L347.32,180.74 L347.53,180.74 L347.73,180.74 L347.94,180.75 L348.15,180.75 L348.36,180.75 L348.57,180.75 L348.78,180.75 L348.99,180.76 L349.20,180.76 L349.41,180.76 L349.62,180.76 L349.83,180.76 L350.04,180.76 L350.25,180.77 L350.46,180.77 L350.67,180.77 L350.88,180.77 L351.09,180.77 L351.30,180.77 L351.51,180.77 L351.72,180.77 L351.92,180.78 L352.13,180.78 L352.34,180.78 L352.55,180.78 L352.76,180.78 L352.97,180.78 L353.18,180.78 L353.39,180.78 L353.60,180.78 L353.81,180.78 L354.02,180.78 L354.23,180.78 L354.44,180.79 L354.65,180.79 L354.86,180.79 L355.07,180.79 L355.28,180.79 L355.49,180.79 L355.70,180.79 L355.91,180.79 L356.11,180.79 L356.32,180.79 L356.53,180.79 L356.74,180.79 L356.95,180.79 L357.16,180.79 L357.37,180.79 L357.58,180.79 L357.79,180.79 L358.00,180.79 L358.21,180.79 L358.42,180.79 L358.63,180.79 L358.84,180.79 L359.05,180.79 L359.26,180.79 L359.47,180.80 L359.68,180.80 L359.89,180.80 L360.10,180.80 L360.30,180.80 L360.51,180.80 L360.72,180.80 L360.93,180.80 L361.14,180.80 L361.35,180.80 L361.56,180.80 L361.77,180.80 L361.98,180.80 L362.19,180.80 L362.40,180.80 L362.61,180.80 L362.82,180.80 L363.03,180.80 L363.24,180.80 L363.45,180.80 L363.66,180.80 L363.87,180.80 L364.08,180.80 L364.29,180.80 L364.49,180.80 L364.70,180.80 L364.91,180.80 L365.12,180.80 L365.33,180.80 L365.54,180.80 L365.75,180.80 L365.96,180.80 L366.17,180.80 L366.38,180.80 L366.59,180.80 L366.80,180.80 L367.01,180.80 L367.22,180.80 L367.43,180.80 L367.64,180.80 L367.85,180.80 L368.06,180.80 L368.27,180.80 L368.48,180.80 L368.68,180.80 L368.89,180.80 L369.10,180.80 L369.31,180.80 L369.52,180.80 L369.73,180.80 L369.94,180.80 L370.15,180.80 L370.36,180.80 L370.57,180.80 L370.78,180.80 L370.99,180.80 L371.20,180.80 L371.41,180.80 L371.62,180.80 L371.83,180.80 L372.04,180.80 L372.25,180.80 L372.46,180.80 L372.67,180.80 L372.87,180.80 L373.08,180.80 L373.29,180.80 L373.50,180.80 L373.71,180.80 L373.92,180.80 L374.13,180.80 L374.34,180.80 L374.55,180.80 L374.76,180.80 L374.97,180.80 L375.18,180.80 L375.39,180.80 L375.60,180.80 L375.81,180.80 L376.02,180.80 L376.23,180.80 L376.44,180.80 L376.65,180.80 L376.86,180.80 L377.06,180.80 L377.27,180.80 L377.48,180.80 L377.69,180.80 L377.90,180.80 L378.11,180.80 L378.32,180.80 L378.53,180.80 L378.74,180.80 L378.95,180.80 L379.16,180.80 L379.37,180.80 L379.58,180.80 L379.79,180.80 L380.00,180.80 L380.21,180.80 L380.42,180.80 L380.63,180.80 L380.84,180.80 L381.05,180.80 L381.25,180.80 L381.46,180.80 L381.67,180.80 L381.88,180.80 L382.09,180.80 L382.30,180.80 L382.51,180.80 L382.72,180.80 L382.93,180.80 L383.14,180.80 L383.35,180.80 L383.56,180.80 L383.77,180.80 L383.98,180.80 L384.19,180.80 L384.40,180.80 L384.61,180.80 L384.82,180.80 L385.03,180.80 L385.24,180.80 L385.44,180.80 L385.65,180.80 L385.86,180.80 L386.07,180.80 L386.28,180.80 L386.49,180.80 L386.70,180.80 L386.91,180.80 L387.12,180.80 L387.33,180.80 L387.54,180.80 L387.75,180.80 L387.96,180.80 L388.17,180.80 L388.38,180.80 L388.59,180.80 L388.80,180.80 L389.01,180.80 L389.22,180.80 L389.43,180.80 L389.63,180.80 L389.84,180.80 L390.05,180.80 L390.26,180.80 L390.47,180.80 L390.68,180.80 L390.89,180.80 L391.10,180.80 L391.31,180.80 L391.52,180.80 L391.73,180.80 L391.94,180.80 L392.15,180.80 L392.36,180.80 L392.57,180.80 L392.78,180.80 L392.99,180.80 L393.20,180.80 L393.41,180.80 L393.62,180.80 L393.82,180.80 L394.03,180.80 L394.24,180.80 L394.45,180.80 L394.66,180.80 L394.87,180.80 L395.08,180.80 L395.29,180.80 L395.50,180.80 L395.71,180.80 L395.92,180.80 L396.13,180.80 L396.34,180.80 L396.55,180.80 L396.76,180.80 L396.97,180.80 L397.18,180.80 L397.39,180.80 L397.60,180.80 L397.81,180.80 L398.01,180.80 L398.22,180.80 L398.43,180.80 L398.64,180.80 L398.85,180.80 L399.06,180.80 L399.27,180.80 L399.48,180.80 L399.69,180.80 L399.90,180.80" stroke="#ff0000" stroke-width="3.4" stroke-dasharray="8 9.9"/>
<path d="M64.70,180.43 L64.91,180.42 L65.12,180.42 L65.33,180.41 L65.54,180.41 L65.75,180.40 L65.96,180.39 L66.17,180.39 L66.38,180.38 L66.59,180.37 L66.79,180.37 L67.00,180.36 L67.21,180.35 L67.42,180.35 L67.63,180.34 L67.84,180.33 L68.05,180.33 L68.26,180.32 L68.47,180.31 L68.68,180.31 L68.89,180.30 L69.10,180.29 L69.31,180.28 L69.52,180.28 L69.73,180.27 L69.94,180.26 L70.15,180.25 L70.36,180.24 L70.57,180.23 L70.78,180.23 L70.98,180.22 L71.19,180.21 L71.40,180.20 L71.61,180.19 L71.82,180.18 L72.03,180.17 L72.24,180.16 L72.45,180.15 L72.66,180.15 L72.87,180.14 L73.08,180.13 L73.29,180.12 L73.50,180.11 L73.71,180.10 L73.92,180.09 L74.13,180.08 L74.34,180.06 L74.55,180.05 L74.76,180.04 L74.97,180.03 L75.17,180.02 L75.38,180.01 L75.59,180.00 L75.80,179.99 L76.01,179.98 L76.22,179.96 L76.43,179.95 L76.64,179.94 L76.85,179.93 L77.06,179.91 L77.27,179.90 L77.48,179.89 L77.69,179.88 L77.90,179.86 L78.11,179.85 L78.32,179.84 L78.53,179.82 L78.74,179.81 L78.95,179.79 L79.16,179.78 L79.37,179.77 L79.57,179.75 L79.78,179.74 L79.99,179.72 L80.20,179.71 L80.41,179.69 L80.62,179.68 L80.83,179.66 L81.04,179.64 L81.25,179.63 L81.46,179.61 L81.67,179.60 L81.88,179.58 L82.09,179.56 L82.30,179.55 L82.51,179.53 L82.72,179.51 L82.93,179.49 L83.14,179.47 L83.35,179.46 L83.56,179.44 L83.76,179.42 L83.97,179.40 L84.18,179.38 L84.39,179.36 L84.60,179.34 L84.81,179.32 L85.02,179.30 L85.23,179.28 L85.44,179.26 L85.65,179.24 L85.86,179.22 L86.07,179.20 L86.28,179.18 L86.49,179.16 L86.70,179.13 L86.91,179.11 L87.12,179.09 L87.33,179.07 L87.54,179.04 L87.75,179.02 L87.95,179.00 L88.16,178.97 L88.37,178.95 L88.58,178.92 L88.79,178.90 L89.00,178.87 L89.21,178.85 L89.42,178.82 L89.63,178.80 L89.84,178.77 L90.05,178.74 L90.26,178.72 L90.47,178.69 L90.68,178.66 L90.89,178.63 L91.10,178.61 L91.31,178.58 L91.52,178.55 L91.73,178.52 L91.94,178.49 L92.14,178.46 L92.35,178.43 L92.56,178.40 L92.77,178.37 L92.98,178.34 L93.19,178.31 L93.40,178.27 L93.61,178.24 L93.82,178.21 L94.03,178.18 L94.24,178.14 L94.45,178.11 L94.66,178.08 L94.87,178.04 L95.08,178.01 L95.29,177.97 L95.50,177.94 L95.71,177.90 L95.92,177.86 L96.12,177.83 L96.33,177.79 L96.54,177.75 L96.75,177.71 L96.96,177.68 L97.17,177.64 L97.38,177.60 L97.59,177.56 L97.80,177.52 L98.01,177.48 L98.22,177.44 L98.43,177.39 L98.64,177.35 L98.85,177.31 L99.06,177.27 L99.27,177.22 L99.48,177.18 L99.69,177.14 L99.90,177.09 L100.11,177.05 L100.31,177.00 L100.52,176.96 L100.73,176.91 L100.94,176.86 L101.15,176.81 L101.36,176.77 L101.57,176.72 L101.78,176.67 L101.99,176.62 L102.20,176.57 L102.41,176.52 L102.62,176.47 L102.83,176.42 L103.04,176.36 L103.25,176.31 L103.46,176.26 L103.67,176.20 L103.88,176.15 L104.09,176.10 L104.30,176.04 L104.50,175.98 L104.71,175.93 L104.92,175.87 L105.13,175.81 L105.34,175.75 L105.55,175.70 L105.76,175.64 L105.97,175.58 L106.18,175.52 L106.39,175.45 L106.60,175.39 L106.81,175.33 L107.02,175.27 L107.23,175.20 L107.44,175.14 L107.65,175.07 L107.86,175.01 L108.07,174.94 L108.28,174.88 L108.49,174.81 L108.69,174.74 L108.90,174.67 L109.11,174.60 L109.32,174.53 L109.53,174.46 L109.74,174.39 L109.95,174.32 L110.16,174.25 L110.37,174.17 L110.58,174.10 L110.79,174.02 L111.00,173.95 L111.21,173.87 L111.42,173.79 L111.63,173.72 L111.84,173.64 L112.05,173.56 L112.26,173.48 L112.47,173.40 L112.68,173.32 L112.89,173.23 L113.09,173.15 L113.30,173.07 L113.51,172.98 L113.72,172.90 L113.93,172.81 L114.14,172.72 L114.35,172.64 L114.56,172.55 L114.77,172.46 L114.98,172.37 L115.19,172.28 L115.40,172.19 L115.61,172.10 L115.82,172.00 L116.03,171.91 L116.24,171.81 L116.45,171.72 L116.66,171.62 L116.87,171.52 L117.08,171.42 L117.28,171.33 L117.49,171.23 L117.70,171.12 L117.91,171.02 L118.12,170.92 L118.33,170.82 L118.54,170.71 L118.75,170.61 L118.96,170.50 L119.17,170.39 L119.38,170.29 L119.59,170.18 L119.80,170.07 L120.01,169.96 L120.22,169.84 L120.43,169.73 L120.64,169.62 L120.85,169.50 L121.06,169.39 L121.27,169.27 L121.47,169.15 L121.68,169.04 L121.89,168.92 L122.10,168.80 L122.31,168.68 L122.52,168.55 L122.73,168.43 L122.94,168.31 L123.15,168.18 L123.36,168.05 L123.57,167.93 L123.78,167.80 L123.99,167.67 L124.20,167.54 L124.41,167.41 L124.62,167.27 L124.83,167.14 L125.04,167.01 L125.25,166.87 L125.45,166.73 L125.66,166.60 L125.87,166.46 L126.08,166.32 L126.29,166.18 L126.50,166.03 L126.71,165.89 L126.92,165.75 L127.13,165.60 L127.34,165.45 L127.55,165.31 L127.76,165.16 L127.97,165.01 L128.18,164.86 L128.39,164.70 L128.60,164.55 L128.81,164.40 L129.02,164.24 L129.23,164.08 L129.44,163.92 L129.64,163.77 L129.85,163.61 L130.06,163.44 L130.27,163.28 L130.48,163.12 L130.69,162.95 L130.90,162.79 L131.11,162.62 L131.32,162.45 L131.53,162.28 L131.74,162.11 L131.95,161.94 L132.16,161.76 L132.37,161.59 L132.58,161.41 L132.79,161.23 L133.00,161.06 L133.21,160.88 L133.42,160.70 L133.63,160.51 L133.84,160.33 L134.04,160.14 L134.25,159.96 L134.46,159.77 L134.67,159.58 L134.88,159.39 L135.09,159.20 L135.30,159.01 L135.51,158.82 L135.72,158.62 L135.93,158.42 L136.14,158.23 L136.35,158.03 L136.56,157.83 L136.77,157.63 L136.98,157.42 L137.19,157.22 L137.40,157.01 L137.61,156.81 L137.82,156.60 L138.03,156.39 L138.23,156.18 L138.44,155.96 L138.65,155.75 L138.86,155.54 L139.07,155.32 L139.28,155.10 L139.49,154.88 L139.70,154.66 L139.91,154.44 L140.12,154.22 L140.33,153.99 L140.54,153.77 L140.75,153.54 L140.96,153.31 L141.17,153.08 L141.38,152.85 L141.59,152.62 L141.80,152.38 L142.01,152.15 L142.22,151.91 L142.42,151.67 L142.63,151.43 L142.84,151.19 L143.05,150.95 L143.26,150.70 L143.47,150.46 L143.68,150.21 L143.89,149.96 L144.10,149.71 L144.31,149.46 L144.52,149.21 L144.73,148.95 L144.94,148.70 L145.15,148.44 L145.36,148.18 L145.57,147.92 L145.78,147.66 L145.99,147.40 L146.20,147.14 L146.41,146.87 L146.61,146.60 L146.82,146.33 L147.03,146.06 L147.24,145.79 L147.45,145.52 L147.66,145.25 L147.87,144.97 L148.08,144.69 L148.29,144.42 L148.50,144.14 L148.71,143.85 L148.92,143.57 L149.13,143.29 L149.34,143.00 L149.55,142.71 L149.76,142.42 L149.97,142.13 L150.18,141.84 L150.39,141.55 L150.59,141.26 L150.80,140.96 L151.01,140.66 L151.22,140.36 L151.43,140.06 L151.64,139.76 L151.85,139.46 L152.06,139.15 L152.27,138.85 L152.48,138.54 L152.69,138.23 L152.90,137.92 L153.11,137.61 L153.32,137.30 L153.53,136.98 L153.74,136.67 L153.95,136.35 L154.16,136.03 L154.37,135.71 L154.58,135.39 L154.79,135.06 L154.99,134.74 L155.20,134.41 L155.41,134.09 L155.62,133.76 L155.83,133.43 L156.04,133.09 L156.25,132.76 L156.46,132.43 L156.67,132.09 L156.88,131.75 L157.09,131.42 L157.30,131.08 L157.51,130.73 L157.72,130.39 L157.93,130.05 L158.14,129.70 L158.35,129.35 L158.56,129.01 L158.77,128.66 L158.98,128.31 L159.18,127.95 L159.39,127.60 L159.60,127.24 L159.81,126.89 L160.02,126.53 L160.23,126.17 L160.44,125.81 L160.65,125.45 L160.86,125.09 L161.07,124.72 L161.28,124.36 L161.49,123.99 L161.70,123.62 L161.91,123.25 L162.12,122.88 L162.33,122.51 L162.54,122.14 L162.75,121.76 L162.96,121.39 L163.17,121.01 L163.37,120.63 L163.58,120.25 L163.79,119.87 L164.00,119.49 L164.21,119.10 L164.42,118.72 L164.63,118.33 L164.84,117.95 L165.05,117.56 L165.26,117.17 L165.47,116.78 L165.68,116.39 L165.89,116.00 L166.10,115.60 L166.31,115.21 L166.52,114.81 L166.73,114.41 L166.94,114.02 L167.15,113.62 L167.36,113.22 L167.56,112.81 L167.77,112.41 L167.98,112.01 L168.19,111.60 L168.40,111.20 L168.61,110.79 L168.82,110.38 L169.03,109.97 L169.24,109.56 L169.45,109.15 L169.66,108.74 L169.87,108.33 L170.08,107.91 L170.29,107.50 L170.50,107.08 L170.71,106.67 L170.92,106.25 L171.13,105.83 L171.34,105.41 L171.55,104.99 L171.75,104.57 L171.96,104.15 L172.17,103.73 L172.38,103.30 L172.59,102.88 L172.80,102.45 L173.01,102.03 L173.22,101.60 L173.43,101.17 L173.64,100.74 L173.85,100.31 L174.06,99.88 L174.27,99.45 L174.48,99.02 L174.69,98.59 L174.90,98.15 L175.11,97.72 L175.32,97.29 L175.53,96.85 L175.74,96.41 L175.94,95.98 L176.15,95.54 L176.36,95.10 L176.57,94.67 L176.78,94.23 L176.99,93.79 L177.20,93.35 L177.41,92.91 L177.62,92.47 L177.83,92.02 L178.04,91.58 L178.25,91.14 L178.46,90.70 L178.67,90.25 L178.88,89.81 L179.09,89.36 L179.30,88.92 L179.51,88.47 L179.72,88.03 L179.93,87.58 L180.13,87.14 L180.34,86.69 L180.55,86.24 L180.76,85.80 L180.97,85.35 L181.18,84.90 L181.39,84.45 L181.60,84.01 L181.81,83.56 L182.02,83.11 L182.23,82.66 L182.44,82.21 L182.65,81.76 L182.86,81.31 L183.07,80.86 L183.28,80.41 L183.49,79.96 L183.70,79.51 L183.91,79.06 L184.12,78.61 L184.32,78.16 L184.53,77.71 L184.74,77.26 L184.95,76.81 L185.16,76.36 L185.37,75.91 L185.58,75.46 L185.79,75.02 L186.00,74.57 L186.21,74.12 L186.42,73.67 L186.63,73.22 L186.84,72.77 L187.05,72.32 L187.26,71.87 L187.47,71.42 L187.68,70.98 L187.89,70.53 L188.10,70.08 L188.31,69.63 L188.51,69.19 L188.72,68.74 L188.93,68.30 L189.14,67.85 L189.35,67.40 L189.56,66.96 L189.77,66.52 L189.98,66.07 L190.19,65.63 L190.40,65.19 L190.61,64.74 L190.82,64.30 L191.03,63.86 L191.24,63.42 L191.45,62.98 L191.66,62.54 L191.87,62.10 L192.08,61.66 L192.29,61.23 L192.50,60.79 L192.70,60.35 L192.91,59.92 L193.12,59.48 L193.33,59.05 L193.54,58.62 L193.75,58.18 L193.96,57.75 L194.17,57.32 L194.38,56.89 L194.59,56.46 L194.80,56.04 L195.01,55.61 L195.22,55.18 L195.43,54.76 L195.64,54.33 L195.85,53.91 L196.06,53.49 L196.27,53.07 L196.48,52.65 L196.69,52.23 L196.89,51.81 L197.10,51.39 L197.31,50.98 L197.52,50.56 L197.73,50.15 L197.94,49.74 L198.15,49.33 L198.36,48.92 L198.57,48.51 L198.78,48.10 L198.99,47.70 L199.20,47.29 L199.41,46.89 L199.62,46.49 L199.83,46.09 L200.04,45.69 L200.25,45.29 L200.46,44.89 L200.67,44.50 L200.88,44.11 L201.08,43.72 L201.29,43.32 L201.50,42.94 L201.71,42.55 L201.92,42.16 L202.13,41.78 L202.34,41.40 L202.55,41.02 L202.76,40.64 L202.97,40.26 L203.18,39.88 L203.39,39.51 L203.60,39.14 L203.81,38.77 L204.02,38.40 L204.23,38.03 L204.44,37.67 L204.65,37.30 L204.86,36.94 L205.06,36.58 L205.27,36.22 L205.48,35.87 L205.69,35.51 L205.90,35.16 L206.11,34.81 L206.32,34.46 L206.53,34.12 L206.74,33.77 L206.95,33.43 L207.16,33.09 L207.37,32.75 L207.58,32.41 L207.79,32.08 L208.00,31.75 L208.21,31.42 L208.42,31.09 L208.63,30.77 L208.84,30.44 L209.05,30.12 L209.25,29.80 L209.46,29.48 L209.67,29.17 L209.88,28.86 L210.09,28.55 L210.30,28.24 L210.51,27.93 L210.72,27.63 L210.93,27.33 L211.14,27.03 L211.35,26.74 L211.56,26.44 L211.77,26.15 L211.98,25.86 L212.19,25.58 L212.40,25.29 L212.61,25.01 L212.82,24.73 L213.03,24.45 L213.24,24.18 L213.45,23.91 L213.65,23.64 L213.86,23.37 L214.07,23.11 L214.28,22.85 L214.49,22.59 L214.70,22.33 L214.91,22.08 L215.12,21.83 L215.33,21.58 L215.54,21.34 L215.75,21.09 L215.96,20.85 L216.17,20.62 L216.38,20.38 L216.59,20.15 L216.80,19.92 L217.01,19.69 L217.22,19.47 L217.43,19.25 L217.64,19.03 L217.84,18.81 L218.05,18.60 L218.26,18.39 L218.47,18.19 L218.68,17.98 L218.89,17.78 L219.10,17.58 L219.31,17.39 L219.52,17.19 L219.73,17.00 L219.94,16.82 L220.15,16.63 L220.36,16.45 L220.57,16.28 L220.78,16.10 L220.99,15.93 L221.20,15.76 L221.41,15.59 L221.62,15.43 L221.83,15.27 L222.03,15.11 L222.24,14.96 L222.45,14.81 L222.66,14.66 L222.87,14.52 L223.08,14.38 L223.29,14.24 L223.50,14.10 L223.71,13.97 L223.92,13.84 L224.13,13.71 L224.34,13.59 L224.55,13.47 L224.76,13.35 L224.97,13.24 L225.18,13.13 L225.39,13.02 L225.60,12.92 L225.81,12.82 L226.02,12.72 L226.22,12.62 L226.43,12.53 L226.64,12.44 L226.85,12.36 L227.06,12.27 L227.27,12.20 L227.48,12.12 L227.69,12.05 L227.90,11.98 L228.11,11.91 L228.32,11.85 L228.53,11.79 L228.74,11.73 L228.95,11.68 L229.16,11.63 L229.37,11.58 L229.58,11.54 L229.79,11.50 L230.00,11.46 L230.21,11.43 L230.41,11.39 L230.62,11.37 L230.83,11.34 L231.04,11.32 L231.25,11.30 L231.46,11.29 L231.67,11.28 L231.88,11.27 L232.09,11.26 L232.30,11.26 L232.51,11.26 L232.72,11.27 L232.93,11.28 L233.14,11.29 L233.35,11.30 L233.56,11.32 L233.77,11.34 L233.98,11.37 L234.19,11.39 L234.40,11.43 L234.60,11.46 L234.81,11.50 L235.02,11.54 L235.23,11.58 L235.44,11.63 L235.65,11.68 L235.86,11.73 L236.07,11.79 L236.28,11.85 L236.49,11.91 L236.70,11.98 L236.91,12.05 L237.12,12.12 L237.33,12.20 L237.54,12.27 L237.75,12.36 L237.96,12.44 L238.17,12.53 L238.38,12.62 L238.59,12.72 L238.79,12.82 L239.00,12.92 L239.21,13.02 L239.42,13.13 L239.63,13.24 L239.84,13.35 L240.05,13.47 L240.26,13.59 L240.47,13.71 L240.68,13.84 L240.89,13.97 L241.10,14.10 L241.31,14.24 L241.52,14.38 L241.73,14.52 L241.94,14.66 L242.15,14.81 L242.36,14.96 L242.57,15.11 L242.78,15.27 L242.98,15.43 L243.19,15.59 L243.40,15.76 L243.61,15.93 L243.82,16.10 L244.03,16.28 L244.24,16.45 L244.45,16.63 L244.66,16.82 L244.87,17.00 L245.08,17.19 L245.29,17.39 L245.50,17.58 L245.71,17.78 L245.92,17.98 L246.13,18.19 L246.34,18.39 L246.55,18.60 L246.76,18.81 L246.97,19.03 L247.17,19.25 L247.38,19.47 L247.59,19.69 L247.80,19.92 L248.01,20.15 L248.22,20.38 L248.43,20.62 L248.64,20.85 L248.85,21.09 L249.06,21.34 L249.27,21.58 L249.48,21.83 L249.69,22.08 L249.90,22.33 L250.11,22.59 L250.32,22.85 L250.53,23.11 L250.74,23.37 L250.95,23.64 L251.16,23.91 L251.36,24.18 L251.57,24.45 L251.78,24.73 L251.99,25.01 L252.20,25.29 L252.41,25.58 L252.62,25.86 L252.83,26.15 L253.04,26.44 L253.25,26.74 L253.46,27.03 L253.67,27.33 L253.88,27.63 L254.09,27.93 L254.30,28.24 L254.51,28.55 L254.72,28.86 L254.93,29.17 L255.14,29.48 L255.35,29.80 L255.55,30.12 L255.76,30.44 L255.97,30.77 L256.18,31.09 L256.39,31.42 L256.60,31.75 L256.81,32.08 L257.02,32.41 L257.23,32.75 L257.44,33.09 L257.65,33.43 L257.86,33.77 L258.07,34.12 L258.28,34.46 L258.49,34.81 L258.70,35.16 L258.91,35.51 L259.12,35.87 L259.33,36.22 L259.54,36.58 L259.74,36.94 L259.95,37.30 L260.16,37.67 L260.37,38.03 L260.58,38.40 L260.79,38.77 L261.00,39.14 L261.21,39.51 L261.42,39.88 L261.63,40.26 L261.84,40.64 L262.05,41.02 L262.26,41.40 L262.47,41.78 L262.68,42.16 L262.89,42.55 L263.10,42.94 L263.31,43.32 L263.52,43.72 L263.73,44.11 L263.93,44.50 L264.14,44.89 L264.35,45.29 L264.56,45.69 L264.77,46.09 L264.98,46.49 L265.19,46.89 L265.40,47.29 L265.61,47.70 L265.82,48.10 L266.03,48.51 L266.24,48.92 L266.45,49.33 L266.66,49.74 L266.87,50.15 L267.08,50.56 L267.29,50.98 L267.50,51.39 L267.71,51.81 L267.92,52.23 L268.12,52.65 L268.33,53.07 L268.54,53.49 L268.75,53.91 L268.96,54.33 L269.17,54.76 L269.38,55.18 L269.59,55.61 L269.80,56.04 L270.01,56.46 L270.22,56.89 L270.43,57.32 L270.64,57.75 L270.85,58.18 L271.06,58.62 L271.27,59.05 L271.48,59.48 L271.69,59.92 L271.90,60.35 L272.11,60.79 L272.31,61.23 L272.52,61.66 L272.73,62.10 L272.94,62.54 L273.15,62.98 L273.36,63.42 L273.57,63.86 L273.78,64.30 L273.99,64.74 L274.20,65.19 L274.41,65.63 L274.62,66.07 L274.83,66.52 L275.04,66.96 L275.25,67.40 L275.46,67.85 L275.67,68.30 L275.88,68.74 L276.09,69.19 L276.30,69.63 L276.50,70.08 L276.71,70.53 L276.92,70.98 L277.13,71.42 L277.34,71.87 L277.55,72.32 L277.76,72.77 L277.97,73.22 L278.18,73.67 L278.39,74.12 L278.60,74.57 L278.81,75.02 L279.02,75.46 L279.23,75.91 L279.44,76.36 L279.65,76.81 L279.86,77.26 L280.07,77.71 L280.28,78.16 L280.49,78.61 L280.69,79.06 L280.90,79.51 L281.11,79.96 L281.32,80.41 L281.53,80.86 L281.74,81.31 L281.95,81.76 L282.16,82.21 L282.37,82.66 L282.58,83.11 L282.79,83.56 L283.00,84.01 L283.21,84.45 L283.42,84.90 L283.63,85.35 L283.84,85.80 L284.05,86.24 L284.26,86.69 L284.47,87.14 L284.68,87.58 L284.88,88.03 L285.09,88.47 L285.30,88.92 L285.51,89.36 L285.72,89.81 L285.93,90.25 L286.14,90.70 L286.35,91.14 L286.56,91.58 L286.77,92.02 L286.98,92.47 L287.19,92.91 L287.40,93.35 L287.61,93.79 L287.82,94.23 L288.03,94.67 L288.24,95.10 L288.45,95.54 L288.66,95.98 L288.87,96.41 L289.07,96.85 L289.28,97.29 L289.49,97.72 L289.70,98.15 L289.91,98.59 L290.12,99.02 L290.33,99.45 L290.54,99.88 L290.75,100.31 L290.96,100.74 L291.17,101.17 L291.38,101.60 L291.59,102.03 L291.80,102.45 L292.01,102.88 L292.22,103.30 L292.43,103.73 L292.64,104.15 L292.85,104.57 L293.06,104.99 L293.26,105.41 L293.47,105.83 L293.68,106.25 L293.89,106.67 L294.10,107.08 L294.31,107.50 L294.52,107.91 L294.73,108.33 L294.94,108.74 L295.15,109.15 L295.36,109.56 L295.57,109.97 L295.78,110.38 L295.99,110.79 L296.20,111.20 L296.41,111.60 L296.62,112.01 L296.83,112.41 L297.04,112.81 L297.25,113.22 L297.45,113.62 L297.66,114.02 L297.87,114.41 L298.08,114.81 L298.29,115.21 L298.50,115.60 L298.71,116.00 L298.92,116.39 L299.13,116.78 L299.34,117.17 L299.55,117.56 L299.76,117.95 L299.97,118.33 L300.18,118.72 L300.39,119.10 L300.60,119.49 L300.81,119.87 L301.02,120.25 L301.23,120.63 L301.44,121.01 L301.64,121.39 L301.85,121.76 L302.06,122.14 L302.27,122.51 L302.48,122.88 L302.69,123.25 L302.90,123.62 L303.11,123.99 L303.32,124.36 L303.53,124.72 L303.74,125.09 L303.95,125.45 L304.16,125.81 L304.37,126.17 L304.58,126.53 L304.79,126.89 L305.00,127.24 L305.21,127.60 L305.42,127.95 L305.62,128.31 L305.83,128.66 L306.04,129.01 L306.25,129.35 L306.46,129.70 L306.67,130.05 L306.88,130.39 L307.09,130.73 L307.30,131.08 L307.51,131.42 L307.72,131.75 L307.93,132.09 L308.14,132.43 L308.35,132.76 L308.56,133.09 L308.77,133.43 L308.98,133.76 L309.19,134.09 L309.40,134.41 L309.61,134.74 L309.81,135.06 L310.02,135.39 L310.23,135.71 L310.44,136.03 L310.65,136.35 L310.86,136.67 L311.07,136.98 L311.28,137.30 L311.49,137.61 L311.70,137.92 L311.91,138.23 L312.12,138.54 L312.33,138.85 L312.54,139.15 L312.75,139.46 L312.96,139.76 L313.17,140.06 L313.38,140.36 L313.59,140.66 L313.80,140.96 L314.00,141.26 L314.21,141.55 L314.42,141.84 L314.63,142.13 L314.84,142.42 L315.05,142.71 L315.26,143.00 L315.47,143.29 L315.68,143.57 L315.89,143.85 L316.10,144.14 L316.31,144.42 L316.52,144.69 L316.73,144.97 L316.94,145.25 L317.15,145.52 L317.36,145.79 L317.57,146.06 L317.78,146.33 L317.99,146.60 L318.20,146.87 L318.40,147.14 L318.61,147.40 L318.82,147.66 L319.03,147.92 L319.24,148.18 L319.45,148.44 L319.66,148.70 L319.87,148.95 L320.08,149.21 L320.29,149.46 L320.50,149.71 L320.71,149.96 L320.92,150.21 L321.13,150.46 L321.34,150.70 L321.55,150.95 L321.76,151.19 L321.97,151.43 L322.18,151.67 L322.38,151.91 L322.59,152.15 L322.80,152.38 L323.01,152.62 L323.22,152.85 L323.43,153.08 L323.64,153.31 L323.85,153.54 L324.06,153.77 L324.27,153.99 L324.48,154.22 L324.69,154.44 L324.90,154.66 L325.11,154.88 L325.32,155.10 L325.53,155.32 L325.74,155.54 L325.95,155.75 L326.16,155.96 L326.37,156.18 L326.58,156.39 L326.78,156.60 L326.99,156.81 L327.20,157.01 L327.41,157.22 L327.62,157.42 L327.83,157.63 L328.04,157.83 L328.25,158.03 L328.46,158.23 L328.67,158.42 L328.88,158.62 L329.09,158.82 L329.30,159.01 L329.51,159.20 L329.72,159.39 L329.93,159.58 L330.14,159.77 L330.35,159.96 L330.56,160.14 L330.76,160.33 L330.97,160.51 L331.18,160.70 L331.39,160.88 L331.60,161.06 L331.81,161.23 L332.02,161.41 L332.23,161.59 L332.44,161.76 L332.65,161.94 L332.86,162.11 L333.07,162.28 L333.28,162.45 L333.49,162.62 L333.70,162.79 L333.91,162.95 L334.12,163.12 L334.33,163.28 L334.54,163.44 L334.75,163.61 L334.96,163.77 L335.16,163.92 L335.37,164.08 L335.58,164.24 L335.79,164.40 L336.00,164.55 L336.21,164.70 L336.42,164.86 L336.63,165.01 L336.84,165.16 L337.05,165.31 L337.26,165.45 L337.47,165.60 L337.68,165.75 L337.89,165.89 L338.10,166.03 L338.31,166.18 L338.52,166.32 L338.73,166.46 L338.94,166.60 L339.15,166.73 L339.35,166.87 L339.56,167.01 L339.77,167.14 L339.98,167.27 L340.19,167.41 L340.40,167.54 L340.61,167.67 L340.82,167.80 L341.03,167.93 L341.24,168.05 L341.45,168.18 L341.66,168.31 L341.87,168.43 L342.08,168.55 L342.29,168.68 L342.50,168.80 L342.71,168.92 L342.92,169.04 L343.13,169.15 L343.34,169.27 L343.54,169.39 L343.75,169.50 L343.96,169.62 L344.17,169.73 L344.38,169.84 L344.59,169.96 L344.80,170.07 L345.01,170.18 L345.22,170.29 L345.43,170.39 L345.64,170.50 L345.85,170.61 L346.06,170.71 L346.27,170.82 L346.48,170.92 L346.69,171.02 L346.90,171.12 L347.11,171.23 L347.32,171.33 L347.53,171.42 L347.73,171.52 L347.94,171.62 L348.15,171.72 L348.36,171.81 L348.57,171.91 L348.78,172.00 L348.99,172.10 L349.20,172.19 L349.41,172.28 L349.62,172.37 L349.83,172.46 L350.04,172.55 L350.25,172.64 L350.46,172.72 L350.67,172.81 L350.88,172.90 L351.09,172.98 L351.30,173.07 L351.51,173.15 L351.72,173.23 L351.92,173.32 L352.13,173.40 L352.34,173.48 L352.55,173.56 L352.76,173.64 L352.97,173.72 L353.18,173.79 L353.39,173.87 L353.60,173.95 L353.81,174.02 L354.02,174.10 L354.23,174.17 L354.44,174.25 L354.65,174.32 L354.86,174.39 L355.07,174.46 L355.28,174.53 L355.49,174.60 L355.70,174.67 L355.91,174.74 L356.11,174.81 L356.32,174.88 L356.53,174.94 L356.74,175.01 L356.95,175.07 L357.16,175.14 L357.37,175.20 L357.58,175.27 L357.79,175.33 L358.00,175.39 L358.21,175.45 L358.42,175.52 L358.63,175.58 L358.84,175.64 L359.05,175.70 L359.26,175.75 L359.47,175.81 L359.68,175.87 L359.89,175.93 L360.10,175.98 L360.30,176.04 L360.51,176.10 L360.72,176.15 L360.93,176.20 L361.14,176.26 L361.35,176.31 L361.56,176.36 L361.77,176.42 L361.98,176.47 L362.19,176.52 L362.40,176.57 L362.61,176.62 L362.82,176.67 L363.03,176.72 L363.24,176.77 L363.45,176.81 L363.66,176.86 L363.87,176.91 L364.08,176.96 L364.29,177.00 L364.49,177.05 L364.70,177.09 L364.91,177.14 L365.12,177.18 L365.33,177.22 L365.54,177.27 L365.75,177.31 L365.96,177.35 L366.17,177.39 L366.38,177.44 L366.59,177.48 L366.80,177.52 L367.01,177.56 L367.22,177.60 L367.43,177.64 L367.64,177.68 L367.85,177.71 L368.06,177.75 L368.27,177.79 L368.48,177.83 L368.68,177.86 L368.89,177.90 L369.10,177.94 L369.31,177.97 L369.52,178.01 L369.73,178.04 L369.94,178.08 L370.15,178.11 L370.36,178.14 L370.57,178.18 L370.78,178.21 L370.99,178.24 L371.20,178.27 L371.41,178.31 L371.62,178.34 L371.83,178.37 L372.04,178.40 L372.25,178.43 L372.46,178.46 L372.67,178.49 L372.87,178.52 L373.08,178.55 L373.29,178.58 L373.50,178.61 L373.71,178.63 L373.92,178.66 L374.13,178.69 L374.34,178.72 L374.55,178.74 L374.76,178.77 L374.97,178.80 L375.18,178.82 L375.39,178.85 L375.60,178.87 L375.81,178.90 L376.02,178.92 L376.23,178.95 L376.44,178.97 L376.65,179.00 L376.86,179.02 L377.06,179.04 L377.27,179.07 L377.48,179.09 L377.69,179.11 L377.90,179.13 L378.11,179.16 L378.32,179.18 L378.53,179.20 L378.74,179.22 L378.95,179.24 L379.16,179.26 L379.37,179.28 L379.58,179.30 L379.79,179.32 L380.00,179.34 L380.21,179.36 L380.42,179.38 L380.63,179.40 L380.84,179.42 L381.05,179.44 L381.25,179.46 L381.46,179.47 L381.67,179.49 L381.88,179.51 L382.09,179.53 L382.30,179.55 L382.51,179.56 L382.72,179.58 L382.93,179.60 L383.14,179.61 L383.35,179.63 L383.56,179.64 L383.77,179.66 L383.98,179.68 L384.19,179.69 L384.40,179.71 L384.61,179.72 L384.82,179.74 L385.03,179.75 L385.24,179.77 L385.44,179.78 L385.65,179.79 L385.86,179.81 L386.07,179.82 L386.28,179.84 L386.49,179.85 L386.70,179.86 L386.91,179.88 L387.12,179.89 L387.33,179.90 L387.54,179.91 L387.75,179.93 L387.96,179.94 L388.17,179.95 L388.38,179.96 L388.59,179.98 L388.80,179.99 L389.01,180.00 L389.22,180.01 L389.43,180.02 L389.63,180.03 L389.84,180.04 L390.05,180.05 L390.26,180.06 L390.47,180.08 L390.68,180.09 L390.89,180.10 L391.10,180.11 L391.31,180.12 L391.52,180.13 L391.73,180.14 L391.94,180.15 L392.15,180.15 L392.36,180.16 L392.57,180.17 L392.78,180.18 L392.99,180.19 L393.20,180.20 L393.41,180.21 L393.62,180.22 L393.82,180.23 L394.03,180.23 L394.24,180.24 L394.45,180.25 L394.66,180.26 L394.87,180.27 L395.08,180.28 L395.29,180.28 L395.50,180.29 L395.71,180.30 L395.92,180.31 L396.13,180.31 L396.34,180.32 L396.55,180.33 L396.76,180.33 L396.97,180.34 L397.18,180.35 L397.39,180.35 L397.60,180.36 L397.81,180.37 L398.01,180.37 L398.22,180.38 L398.43,180.39 L398.64,180.39 L398.85,180.40 L399.06,180.41 L399.27,180.41 L399.48,180.42 L399.69,180.42 L399.90,180.43" stroke="#000" stroke-width="2.05" stroke-dasharray="0.35 3.55"/>
</g>
<g stroke="#a6a6a6" stroke-width="0.9" fill="none"><line x1="64.70" y1="216.50" x2="64.70" y2="213.50"/><line x1="64.70" y1="0.50" x2="64.70" y2="3.50"/><line x1="81.46" y1="216.50" x2="81.46" y2="214.70"/><line x1="81.46" y1="0.50" x2="81.46" y2="2.30"/><line x1="98.22" y1="216.50" x2="98.22" y2="214.70"/><line x1="98.22" y1="0.50" x2="98.22" y2="2.30"/><line x1="114.98" y1="216.50" x2="114.98" y2="214.70"/><line x1="114.98" y1="0.50" x2="114.98" y2="2.30"/><line x1="131.74" y1="216.50" x2="131.74" y2="214.70"/><line x1="131.74" y1="0.50" x2="131.74" y2="2.30"/><line x1="148.50" y1="216.50" x2="148.50" y2="213.50"/><line x1="148.50" y1="0.50" x2="148.50" y2="3.50"/><line x1="165.26" y1="216.50" x2="165.26" y2="214.70"/><line x1="165.26" y1="0.50" x2="165.26" y2="2.30"/><line x1="182.02" y1="216.50" x2="182.02" y2="214.70"/><line x1="182.02" y1="0.50" x2="182.02" y2="2.30"/><line x1="198.78" y1="216.50" x2="198.78" y2="214.70"/><line x1="198.78" y1="0.50" x2="198.78" y2="2.30"/><line x1="215.54" y1="216.50" x2="215.54" y2="214.70"/><line x1="215.54" y1="0.50" x2="215.54" y2="2.30"/><line x1="232.30" y1="216.50" x2="232.30" y2="213.50"/><line x1="232.30" y1="0.50" x2="232.30" y2="3.50"/><line x1="249.06" y1="216.50" x2="249.06" y2="214.70"/><line x1="249.06" y1="0.50" x2="249.06" y2="2.30"/><line x1="265.82" y1="216.50" x2="265.82" y2="214.70"/><line x1="265.82" y1="0.50" x2="265.82" y2="2.30"/><line x1="282.58" y1="216.50" x2="282.58" y2="214.70"/><line x1="282.58" y1="0.50" x2="282.58" y2="2.30"/><line x1="299.34" y1="216.50" x2="299.34" y2="214.70"/><line x1="299.34" y1="0.50" x2="299.34" y2="2.30"/><line x1="316.10" y1="216.50" x2="316.10" y2="213.50"/><line x1="316.10" y1="0.50" x2="316.10" y2="3.50"/><line x1="332.86" y1="216.50" x2="332.86" y2="214.70"/><line x1="332.86" y1="0.50" x2="332.86" y2="2.30"/><line x1="349.62" y1="216.50" x2="349.62" y2="214.70"/><line x1="349.62" y1="0.50" x2="349.62" y2="2.30"/><line x1="366.38" y1="216.50" x2="366.38" y2="214.70"/><line x1="366.38" y1="0.50" x2="366.38" y2="2.30"/><line x1="383.14" y1="216.50" x2="383.14" y2="214.70"/><line x1="383.14" y1="0.50" x2="383.14" y2="2.30"/><line x1="399.90" y1="216.50" x2="399.90" y2="213.50"/><line x1="399.90" y1="0.50" x2="399.90" y2="3.50"/><line x1="57.50" y1="212.77" x2="60.50" y2="212.77"/><line x1="406.50" y1="212.77" x2="403.50" y2="212.77"/><line x1="57.50" y1="204.78" x2="59.30" y2="204.78"/><line x1="406.50" y1="204.78" x2="404.70" y2="204.78"/><line x1="57.50" y1="196.79" x2="59.30" y2="196.79"/><line x1="406.50" y1="196.79" x2="404.70" y2="196.79"/><line x1="57.50" y1="188.79" x2="59.30" y2="188.79"/><line x1="406.50" y1="188.79" x2="404.70" y2="188.79"/><line x1="57.50" y1="180.80" x2="60.50" y2="180.80"/><line x1="406.50" y1="180.80" x2="403.50" y2="180.80"/><line x1="57.50" y1="172.81" x2="59.30" y2="172.81"/><line x1="406.50" y1="172.81" x2="404.70" y2="172.81"/><line x1="57.50" y1="164.81" x2="59.30" y2="164.81"/><line x1="406.50" y1="164.81" x2="404.70" y2="164.81"/><line x1="57.50" y1="156.82" x2="59.30" y2="156.82"/><line x1="406.50" y1="156.82" x2="404.70" y2="156.82"/><line x1="57.50" y1="148.83" x2="60.50" y2="148.83"/><line x1="406.50" y1="148.83" x2="403.50" y2="148.83"/><line x1="57.50" y1="140.84" x2="59.30" y2="140.84"/><line x1="406.50" y1="140.84" x2="404.70" y2="140.84"/><line x1="57.50" y1="132.84" x2="59.30" y2="132.84"/><line x1="406.50" y1="132.84" x2="404.70" y2="132.84"/><line x1="57.50" y1="124.85" x2="59.30" y2="124.85"/><line x1="406.50" y1="124.85" x2="404.70" y2="124.85"/><line x1="57.50" y1="116.86" x2="60.50" y2="116.86"/><line x1="406.50" y1="116.86" x2="403.50" y2="116.86"/><line x1="57.50" y1="108.87" x2="59.30" y2="108.87"/><line x1="406.50" y1="108.87" x2="404.70" y2="108.87"/><line x1="57.50" y1="100.88" x2="59.30" y2="100.88"/><line x1="406.50" y1="100.88" x2="404.70" y2="100.88"/><line x1="57.50" y1="92.88" x2="59.30" y2="92.88"/><line x1="406.50" y1="92.88" x2="404.70" y2="92.88"/><line x1="57.50" y1="84.89" x2="60.50" y2="84.89"/><line x1="406.50" y1="84.89" x2="403.50" y2="84.89"/><line x1="57.50" y1="76.90" x2="59.30" y2="76.90"/><line x1="406.50" y1="76.90" x2="404.70" y2="76.90"/><line x1="57.50" y1="68.91" x2="59.30" y2="68.91"/><line x1="406.50" y1="68.91" x2="404.70" y2="68.91"/><line x1="57.50" y1="60.91" x2="59.30" y2="60.91"/><line x1="406.50" y1="60.91" x2="404.70" y2="60.91"/><line x1="57.50" y1="52.92" x2="60.50" y2="52.92"/><line x1="406.50" y1="52.92" x2="403.50" y2="52.92"/><line x1="57.50" y1="44.93" x2="59.30" y2="44.93"/><line x1="406.50" y1="44.93" x2="404.70" y2="44.93"/><line x1="57.50" y1="36.94" x2="59.30" y2="36.94"/><line x1="406.50" y1="36.94" x2="404.70" y2="36.94"/><line x1="57.50" y1="28.94" x2="59.30" y2="28.94"/><line x1="406.50" y1="28.94" x2="404.70" y2="28.94"/><line x1="57.50" y1="20.95" x2="60.50" y2="20.95"/><line x1="406.50" y1="20.95" x2="403.50" y2="20.95"/><line x1="57.50" y1="12.96" x2="59.30" y2="12.96"/><line x1="406.50" y1="12.96" x2="404.70" y2="12.96"/><line x1="57.50" y1="4.97" x2="59.30" y2="4.97"/><line x1="406.50" y1="4.97" x2="404.70" y2="4.97"/></g>
<rect x="57.50" y="0.50" width="349.00" height="216.00" fill="none" stroke="#a6a6a6" stroke-width="1"/>
<g font-size="14px" fill="#000"><text x="55.4" y="217.02" text-anchor="end">−0.2</text><text x="55.4" y="185.05" text-anchor="end">0.0</text><text x="55.4" y="153.08" text-anchor="end">0.2</text><text x="55.4" y="121.11" text-anchor="end">0.4</text><text x="55.4" y="89.14" text-anchor="end">0.6</text><text x="55.4" y="57.17" text-anchor="end">0.8</text><text x="55.4" y="25.20" text-anchor="end">1.0</text><text x="64.70" y="231.3" text-anchor="middle">−10</text><text x="148.50" y="231.3" text-anchor="middle">−5</text><text x="232.30" y="231.3" text-anchor="middle">0</text><text x="316.10" y="231.3" text-anchor="middle">5</text><text x="399.90" y="231.3" text-anchor="middle">10</text>
<text x="232.4" y="251.3" text-anchor="middle">q</text>
<text transform="translate(18.6,107.75) rotate(-90)" text-anchor="middle" font-size="13.6px"><tspan font-style="italic">ψ</tspan>(q)</text>
</g>
<g fill="none" stroke-linecap="square">
<line x1="320" y1="8.3" x2="348.6" y2="8.3" stroke="#0000ff" stroke-width="2.5"/>
<line x1="320" y1="27" x2="348.6" y2="27" stroke="#ff0000" stroke-width="2.5" stroke-dasharray="8 10"/>
<line x1="319.8" y1="45.7" x2="348.6" y2="45.7" stroke="#000" stroke-width="2.05" stroke-dasharray="0.35 3.55"/>
</g>
<g font-size="9.35px" fill="#000">
<text x="355.1" y="13.3">GKP</text>
<text x="355.1" y="31.7">Approx.</text>
<text x="355.1" y="50.4">Envelope</text>
</g>
</svg>
</body></html>
